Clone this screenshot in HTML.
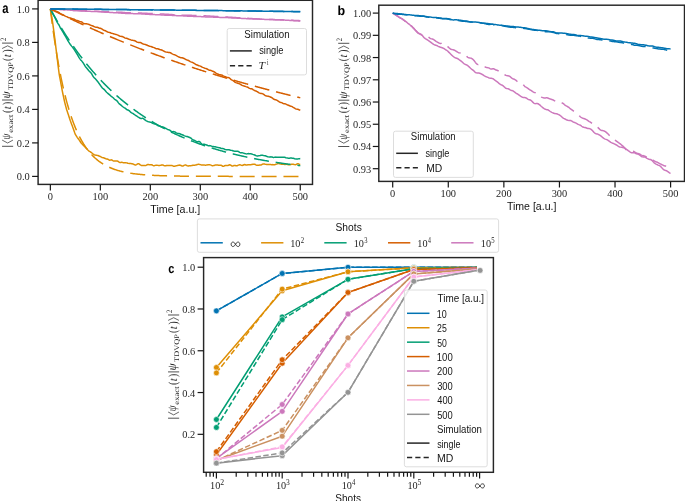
<!DOCTYPE html>
<html><head><meta charset="utf-8"><style>
html,body{margin:0;padding:0;background:#fff;overflow:hidden;}
svg{display:block;will-change:transform;}
.tk{font-family:"Liberation Serif",serif;font-size:10.4px;fill:#262626;}
.sl{font-family:"Liberation Sans",sans-serif;font-size:10px;fill:#151515;}
.ml{font-family:"Liberation Serif",serif;font-size:10.5px;fill:#262626;text-rendering:geometricPrecision;}
.pl{font-family:"Liberation Sans",sans-serif;font-size:13.5px;font-weight:bold;fill:#000;text-rendering:geometricPrecision;}
</style></head><body>
<svg width="685" height="501" viewBox="0 0 685 501">
<rect width="685" height="501" fill="#fff"/>
<defs><clipPath id="ca"><rect x="38.1" y="0.3" width="274.4" height="184.1"/></clipPath><clipPath id="cb"><rect x="378.8" y="5.2" width="305.7" height="176.2"/></clipPath><clipPath id="cc"><rect x="203.6" y="257.6" width="289.8" height="214.7"/></clipPath></defs>
<g clip-path="url(#ca)">
<path d="M50.36,8.9 L50.98,12.63 L51.61,16.21 L52.23,19.81 L52.86,24.02 L53.48,28.72 L54.11,33.44 L54.73,38.15 L55.36,43.19 L55.98,48.29 L56.61,53.39 L57.23,58.53 L57.86,63.57 L58.48,68.56 L59.11,73.51 L59.73,77.12 L60.36,80.46 L60.98,83.81 L61.61,87.18 L62.23,90.56 L62.86,93.73 L63.48,96.61 L64.1,99.51 L64.73,102.32 L65.35,104.71 L65.98,107.11 L66.6,109.47 L67.23,111.35 L67.85,113.21 L68.48,115.07 L69.1,116.96 L69.73,118.9 L70.35,120.74 L70.98,122.48 L71.6,124.18 L72.23,125.86 L72.85,127.55 L73.48,129.28 L74.1,131.04 L74.73,132.82 L75.35,134.43 L75.97,135.45 L76.6,136.44 L77.22,137.37 L77.85,138.23 L78.47,139.04 L79.1,139.88 L79.72,140.79 L80.35,141.76 L80.97,142.73 L81.6,143.43 L82.22,144.1 L82.85,144.74 L83.47,145.37 L84.1,146.01 L84.72,146.67 L85.35,147.33 L85.97,147.96 L86.6,148.6 L87.22,149.27 L87.84,149.95 L88.47,150.59 L89.09,151.05 L89.72,151.46 L90.34,151.84 L90.97,152.25 L91.59,152.73 L92.22,153.23 L92.84,153.74 L93.47,154.22 L94.09,154.68 L94.72,154.91 L95.34,155.08 L95.97,155.2 L96.59,155.28 L97.22,155.37 L97.84,155.55 L98.47,155.81 L99.09,156.07 L99.72,156.31 L100.34,156.56 L100.96,156.87 L101.59,157.19 L102.21,157.46 L102.84,157.66 L103.46,157.83 L104.09,158.02 L104.71,158.27 L105.34,158.56 L105.96,158.8 L106.59,158.9 L107.21,158.97 L107.84,159.17 L108.46,159.55 L109.09,159.99 L109.71,160.18 L110.34,160.07 L110.96,159.88 L111.59,159.85 L112.21,160.08 L112.84,160.53 L113.46,160.94 L114.08,161.1 L114.71,161.06 L115.33,160.96 L115.96,160.89 L116.58,160.91 L117.21,161.05 L117.83,161.24 L118.46,161.58 L119.08,162.04 L119.71,162.39 L120.33,162.49 L120.96,162.4 L121.58,162.27 L122.21,162.35 L122.83,162.6 L123.46,162.79 L124.08,162.81 L124.71,162.77 L125.33,162.75 L125.95,162.78 L126.58,162.87 L127.2,163 L127.83,163.2 L128.45,163.37 L129.08,163.46 L129.7,163.49 L130.33,163.52 L130.95,163.57 L131.58,163.65 L132.2,163.77 L132.83,163.92 L133.45,164.17 L134.08,164.53 L134.7,164.82 L135.33,164.93 L135.95,164.88 L136.58,164.63 L137.2,164.22 L137.82,163.84 L138.45,163.7 L139.07,163.88 L139.7,164.33 L140.32,164.85 L140.95,165.22 L141.57,165.41 L142.2,165.45 L142.82,165.43 L143.45,165.43 L144.07,165.51 L144.7,165.6 L145.32,165.6 L145.95,165.43 L146.57,165.1 L147.2,164.75 L147.82,164.56 L148.45,164.59 L149.07,164.74 L149.7,164.78 L150.32,164.7 L150.94,164.62 L151.57,164.7 L152.19,164.96 L152.82,165.35 L153.44,165.64 L154.07,165.66 L154.69,165.54 L155.32,165.36 L155.94,165.21 L156.57,165.18 L157.19,165.26 L157.82,165.37 L158.44,165.46 L159.07,165.54 L159.69,165.52 L160.32,165.39 L160.94,165.2 L161.57,165.01 L162.19,164.95 L162.81,165.04 L163.44,165.3 L164.06,165.61 L164.69,165.79 L165.31,165.81 L165.94,165.71 L166.56,165.57 L167.19,165.49 L167.81,165.49 L168.44,165.46 L169.06,165.45 L169.69,165.48 L170.31,165.47 L170.94,165.42 L171.56,165.43 L172.19,165.56 L172.81,165.85 L173.44,166.2 L174.06,166.35 L174.69,166.24 L175.31,166.07 L175.93,165.9 L176.56,165.72 L177.18,165.58 L177.81,165.42 L178.43,165.26 L179.06,165.15 L179.68,165.12 L180.31,165.19 L180.93,165.43 L181.56,165.76 L182.18,165.97 L182.81,165.95 L183.43,165.72 L184.06,165.39 L184.68,165.12 L185.31,165 L185.93,165.11 L186.56,165.4 L187.18,165.71 L187.81,165.9 L188.43,165.9 L189.05,165.77 L189.68,165.65 L190.3,165.65 L190.93,165.63 L191.55,165.56 L192.18,165.42 L192.8,165.26 L193.43,165.17 L194.05,165.2 L194.68,165.2 L195.3,165.1 L195.93,164.95 L196.55,164.74 L197.18,164.51 L197.8,164.39 L198.43,164.37 L199.05,164.37 L199.68,164.46 L200.3,164.65 L200.92,164.82 L201.55,164.94 L202.17,165.04 L202.8,165.04 L203.42,164.97 L204.05,164.99 L204.67,165.1 L205.3,165.18 L205.92,165.13 L206.55,165.02 L207.17,164.9 L207.8,164.84 L208.42,164.82 L209.05,164.79 L209.67,164.79 L210.3,164.88 L210.92,165.11 L211.55,165.43 L212.17,165.64 L212.8,165.65 L213.42,165.56 L214.04,165.44 L214.67,165.27 L215.29,165.1 L215.92,164.96 L216.54,164.9 L217.17,164.93 L217.79,165.06 L218.42,165.21 L219.04,165.3 L219.67,165.27 L220.29,165.19 L220.92,165.22 L221.54,165.46 L222.17,165.86 L222.79,166.25 L223.42,166.34 L224.04,166.08 L224.67,165.71 L225.29,165.49 L225.91,165.44 L226.54,165.51 L227.16,165.59 L227.79,165.54 L228.41,165.28 L229.04,164.97 L229.66,164.82 L230.29,164.94 L230.91,165.28 L231.54,165.69 L232.16,165.94 L232.79,165.93 L233.41,165.76 L234.04,165.56 L234.66,165.44 L235.29,165.5 L235.91,165.68 L236.54,165.79 L237.16,165.7 L237.79,165.43 L238.41,165.15 L239.03,164.92 L239.66,164.81 L240.28,164.85 L240.91,165.08 L241.53,165.37 L242.16,165.49 L242.78,165.35 L243.41,164.99 L244.03,164.65 L244.66,164.56 L245.28,164.73 L245.91,164.94 L246.53,165.01 L247.16,164.95 L247.78,164.85 L248.41,164.8 L249.03,164.79 L249.66,164.82 L250.28,164.8 L250.9,164.69 L251.53,164.58 L252.15,164.48 L252.78,164.35 L253.4,164.24 L254.03,164.21 L254.65,164.29 L255.28,164.49 L255.9,164.84 L256.53,165.17 L257.15,165.34 L257.78,165.36 L258.4,165.25 L259.03,165.13 L259.65,165.08 L260.28,165.08 L260.9,164.98 L261.53,164.75 L262.15,164.41 L262.78,164.09 L263.4,163.93 L264.02,163.97 L264.65,164.1 L265.27,164.25 L265.9,164.37 L266.52,164.44 L267.15,164.48 L267.77,164.47 L268.4,164.42 L269.02,164.38 L269.65,164.4 L270.27,164.46 L270.9,164.58 L271.52,164.63 L272.15,164.62 L272.77,164.66 L273.4,164.71 L274.02,164.72 L274.65,164.65 L275.27,164.49 L275.89,164.29 L276.52,164.1 L277.14,163.89 L277.77,163.66 L278.39,163.53 L279.02,163.54 L279.64,163.71 L280.27,163.94 L280.89,164.13 L281.52,164.21 L282.14,164.22 L282.77,164.24 L283.39,164.27 L284.02,164.34 L284.64,164.41 L285.27,164.4 L285.89,164.32 L286.52,164.3 L287.14,164.39 L287.76,164.54 L288.39,164.69 L289.01,164.75 L289.64,164.68 L290.26,164.57 L290.89,164.46 L291.51,164.34 L292.14,164.25 L292.76,164.2 L293.39,164.24 L294.01,164.4 L294.64,164.61 L295.26,164.74 L295.89,164.62 L296.51,164.28 L297.14,163.89 L297.76,163.71 L298.39,163.81 L299.01,164.1 L299.64,164.34 L300.26,164.39" fill="none" stroke="#de8f05" stroke-width="1.5" stroke-linejoin="round"/>
<path d="M50.36,8.9 L50.98,13.99 L51.61,18.93 L52.23,23.71 L52.86,28.35 L53.48,32.85 L54.11,37.22 L54.73,41.45 L55.36,45.55 L55.98,49.52 L56.61,53.38 L57.23,57.12 L57.86,60.74 L58.48,64.26 L59.11,67.67 L59.73,70.97 L60.36,74.18 L60.98,77.28 L61.61,80.3 L62.23,83.22 L62.86,86.05 L63.48,88.8 L64.1,91.46 L64.73,94.04 L65.35,96.54 L65.98,98.97 L66.6,101.32 L67.23,103.6 L67.85,105.82 L68.48,107.96 L69.1,110.04 L69.73,112.06 L70.35,114.01 L70.98,115.91 L71.6,117.75 L72.23,119.53 L72.85,121.26 L73.48,122.94 L74.1,124.56 L74.73,126.14 L75.35,127.66 L75.97,129.15 L76.6,130.58 L77.22,131.97 L77.85,133.32 L78.47,134.63 L79.1,135.9 L79.72,137.13 L80.35,138.33 L80.97,139.48 L81.6,140.61 L82.22,141.69 L82.85,142.75 L83.47,143.77 L84.1,144.76 L84.72,145.72 L85.35,146.66 L85.97,147.56 L86.6,148.44 L87.22,149.29 L87.84,150.11 L88.47,150.91 L89.09,151.69 L89.72,152.44 L90.34,153.16 L90.97,153.87 L91.59,154.56 L92.22,155.22 L92.84,155.86 L93.47,156.49 L94.09,157.09 L94.72,157.68 L95.34,158.25 L95.97,158.8 L96.59,159.33 L97.22,159.85 L97.84,160.36 L98.47,160.84 L99.09,161.32 L99.72,161.78 L100.34,162.22 L100.96,162.65 L101.59,163.07 L102.21,163.47 L102.84,163.87 L103.46,164.25 L104.09,164.62 L104.71,164.98 L105.34,165.32 L105.96,165.66 L106.59,165.99 L107.21,166.3 L107.84,166.61 L108.46,166.91 L109.09,167.19 L109.71,167.47 L110.34,167.75 L110.96,168.01 L111.59,168.26 L112.21,168.51 L112.84,168.75 L113.46,168.98 L114.08,169.21 L114.71,169.43 L115.33,169.64 L115.96,169.84 L116.58,170.04 L117.21,170.24 L117.83,170.42 L118.46,170.61 L119.08,170.78 L119.71,170.95 L120.33,171.12 L120.96,171.28 L121.58,171.43 L122.21,171.59 L122.83,171.73 L123.46,171.87 L124.08,172.01 L124.71,172.14 L125.33,172.27 L125.95,172.4 L126.58,172.52 L127.2,172.64 L127.83,172.75 L128.45,172.86 L129.08,172.97 L129.7,173.08 L130.33,173.18 L130.95,173.27 L131.58,173.37 L132.2,173.46 L132.83,173.55 L133.45,173.64 L134.08,173.72 L134.7,173.8 L135.33,173.88 L135.95,173.96 L136.58,174.03 L137.2,174.1 L137.82,174.17 L138.45,174.24 L139.07,174.31 L139.7,174.37 L140.32,174.43 L140.95,174.49 L141.57,174.55 L142.2,174.61 L142.82,174.66 L143.45,174.71 L144.07,174.77 L144.7,174.82 L145.32,174.86 L145.95,174.91 L146.57,174.96 L147.2,175 L147.82,175.04 L148.45,175.08 L149.07,175.12 L149.7,175.16 L150.32,175.2 L150.94,175.24 L151.57,175.27 L152.19,175.31 L152.82,175.34 L153.44,175.37 L154.07,175.4 L154.69,175.43 L155.32,175.46 L155.94,175.49 L156.57,175.52 L157.19,175.55 L157.82,175.57 L158.44,175.6 L159.07,175.62 L159.69,175.64 L160.32,175.67 L160.94,175.69 L161.57,175.71 L162.19,175.73 L162.81,175.75 L163.44,175.77 L164.06,175.79 L164.69,175.81 L165.31,175.83 L165.94,175.85 L166.56,175.86 L167.19,175.88 L167.81,175.89 L168.44,175.91 L169.06,175.92 L169.69,175.94 L170.31,175.95 L170.94,175.97 L171.56,175.98 L172.19,175.99 L172.81,176 L173.44,176.02 L174.06,176.03 L174.69,176.04 L175.31,176.05 L175.93,176.06 L176.56,176.07 L177.18,176.08 L177.81,176.09 L178.43,176.1 L179.06,176.11 L179.68,176.12 L180.31,176.13 L180.93,176.14 L181.56,176.14 L182.18,176.15 L182.81,176.16 L183.43,176.17 L184.06,176.17 L184.68,176.18 L185.31,176.19 L185.93,176.19 L186.56,176.2 L187.18,176.21 L187.81,176.21 L188.43,176.22 L189.05,176.22 L189.68,176.23 L190.3,176.23 L190.93,176.24 L191.55,176.24 L192.18,176.25 L192.8,176.25 L193.43,176.26 L194.05,176.26 L194.68,176.27 L195.3,176.27 L195.93,176.27 L196.55,176.28 L197.18,176.28 L197.8,176.29 L198.43,176.29 L199.05,176.29 L199.68,176.3 L200.3,176.3 L200.92,176.3 L201.55,176.3 L202.17,176.31 L202.8,176.31 L203.42,176.31 L204.05,176.32 L204.67,176.32 L205.3,176.32 L205.92,176.32 L206.55,176.33 L207.17,176.33 L207.8,176.33 L208.42,176.33 L209.05,176.33 L209.67,176.34 L210.3,176.34 L210.92,176.34 L211.55,176.34 L212.17,176.34 L212.8,176.35 L213.42,176.35 L214.04,176.35 L214.67,176.35 L215.29,176.35 L215.92,176.35 L216.54,176.35 L217.17,176.36 L217.79,176.36 L218.42,176.36 L219.04,176.36 L219.67,176.36 L220.29,176.36 L220.92,176.36 L221.54,176.36 L222.17,176.37 L222.79,176.37 L223.42,176.37 L224.04,176.37 L224.67,176.37 L225.29,176.37 L225.91,176.37 L226.54,176.37 L227.16,176.37 L227.79,176.37 L228.41,176.37 L229.04,176.38 L229.66,176.38 L230.29,176.38 L230.91,176.38 L231.54,176.38 L232.16,176.38 L232.79,176.38 L233.41,176.38 L234.04,176.38 L234.66,176.38 L235.29,176.38 L235.91,176.38 L236.54,176.38 L237.16,176.38 L237.79,176.38 L238.41,176.38 L239.03,176.39 L239.66,176.39 L240.28,176.39 L240.91,176.39 L241.53,176.39 L242.16,176.39 L242.78,176.39 L243.41,176.39 L244.03,176.39 L244.66,176.39 L245.28,176.39 L245.91,176.39 L246.53,176.39 L247.16,176.39 L247.78,176.39 L248.41,176.39 L249.03,176.39 L249.66,176.39 L250.28,176.39 L250.9,176.39 L251.53,176.39 L252.15,176.39 L252.78,176.39 L253.4,176.39 L254.03,176.39 L254.65,176.39 L255.28,176.39 L255.9,176.39 L256.53,176.39 L257.15,176.39 L257.78,176.39 L258.4,176.39 L259.03,176.39 L259.65,176.39 L260.28,176.39 L260.9,176.39 L261.53,176.4 L262.15,176.4 L262.78,176.4 L263.4,176.4 L264.02,176.4 L264.65,176.4 L265.27,176.4 L265.9,176.4 L266.52,176.4 L267.15,176.4 L267.77,176.4 L268.4,176.4 L269.02,176.4 L269.65,176.4 L270.27,176.4 L270.9,176.4 L271.52,176.4 L272.15,176.4 L272.77,176.4 L273.4,176.4 L274.02,176.4 L274.65,176.4 L275.27,176.4 L275.89,176.4 L276.52,176.4 L277.14,176.4 L277.77,176.4 L278.39,176.4 L279.02,176.4 L279.64,176.4 L280.27,176.4 L280.89,176.4 L281.52,176.4 L282.14,176.4 L282.77,176.4 L283.39,176.4 L284.02,176.4 L284.64,176.4 L285.27,176.4 L285.89,176.4 L286.52,176.4 L287.14,176.4 L287.76,176.4 L288.39,176.4 L289.01,176.4 L289.64,176.4 L290.26,176.4 L290.89,176.4 L291.51,176.4 L292.14,176.4 L292.76,176.4 L293.39,176.4 L294.01,176.4 L294.64,176.4 L295.26,176.4 L295.89,176.4 L296.51,176.4 L297.14,176.4 L297.76,176.4 L298.39,176.4 L299.01,176.4 L299.64,176.4 L300.26,176.4" fill="none" stroke="#de8f05" stroke-width="1.5" stroke-linejoin="round" stroke-dasharray="15 6.9"/>
<path d="M50.36,8.9 L50.98,9.91 L51.61,11.28 L52.23,12.59 L52.86,13.81 L53.48,14.94 L54.11,16 L54.73,17.12 L55.36,18.42 L55.98,19.82 L56.61,21.21 L57.23,22.39 L57.86,23.33 L58.48,24.2 L59.11,25.24 L59.73,26.48 L60.36,27.81 L60.98,28.91 L61.61,29.88 L62.23,30.83 L62.86,31.84 L63.48,32.94 L64.1,34.05 L64.73,35.08 L65.35,36.06 L65.98,37.12 L66.6,38.28 L67.23,39.49 L67.85,40.64 L68.48,41.65 L69.1,42.59 L69.73,43.54 L70.35,44.51 L70.98,45.34 L71.6,46.12 L72.23,46.87 L72.85,47.66 L73.48,48.52 L74.1,49.39 L74.73,50.31 L75.35,51.32 L75.97,52.34 L76.6,53.37 L77.22,54.4 L77.85,55.46 L78.47,56.54 L79.1,57.62 L79.72,58.58 L80.35,59.41 L80.97,60.16 L81.6,60.87 L82.22,61.61 L82.85,62.43 L83.47,63.35 L84.1,64.39 L84.72,65.48 L85.35,66.43 L85.97,67.21 L86.6,67.94 L87.22,68.69 L87.84,69.48 L88.47,70.31 L89.09,71.04 L89.72,71.62 L90.34,72.14 L90.97,72.81 L91.59,73.72 L92.22,74.85 L92.84,75.99 L93.47,76.91 L94.09,77.61 L94.72,78.21 L95.34,78.85 L95.97,79.52 L96.59,80.21 L97.22,80.93 L97.84,81.71 L98.47,82.57 L99.09,83.44 L99.72,84.32 L100.34,85.21 L100.96,86.14 L101.59,87.08 L102.21,87.84 L102.84,88.37 L103.46,88.82 L104.09,89.37 L104.71,89.98 L105.34,90.7 L105.96,91.48 L106.59,92.19 L107.21,92.79 L107.84,93.3 L108.46,93.8 L109.09,94.33 L109.71,94.9 L110.34,95.49 L110.96,96.05 L111.59,96.53 L112.21,97.01 L112.84,97.5 L113.46,98.06 L114.08,98.71 L114.71,99.31 L115.33,99.76 L115.96,100.09 L116.58,100.49 L117.21,101.1 L117.83,101.95 L118.46,102.87 L119.08,103.64 L119.71,104.22 L120.33,104.66 L120.96,105.1 L121.58,105.65 L122.21,106.23 L122.83,106.75 L123.46,107.2 L124.08,107.56 L124.71,107.89 L125.33,108.29 L125.95,108.81 L126.58,109.35 L127.2,109.79 L127.83,110.08 L128.45,110.28 L129.08,110.62 L129.7,111.17 L130.33,111.83 L130.95,112.41 L131.58,112.81 L132.2,113.1 L132.83,113.42 L133.45,113.83 L134.08,114.27 L134.7,114.76 L135.33,115.24 L135.95,115.58 L136.58,115.97 L137.2,116.41 L137.82,116.81 L138.45,117.17 L139.07,117.56 L139.7,117.98 L140.32,118.33 L140.95,118.52 L141.57,118.49 L142.2,118.37 L142.82,118.36 L143.45,118.62 L144.07,119.09 L144.7,119.61 L145.32,120.1 L145.95,120.54 L146.57,120.91 L147.2,121.22 L147.82,121.49 L148.45,121.7 L149.07,121.88 L149.7,122.04 L150.32,122.2 L150.94,122.39 L151.57,122.66 L152.19,122.99 L152.82,123.34 L153.44,123.65 L154.07,123.86 L154.69,123.98 L155.32,124.09 L155.94,124.3 L156.57,124.68 L157.19,125.11 L157.82,125.49 L158.44,125.76 L159.07,125.94 L159.69,126.09 L160.32,126.29 L160.94,126.51 L161.57,126.69 L162.19,126.85 L162.81,127.04 L163.44,127.26 L164.06,127.53 L164.69,127.83 L165.31,128.15 L165.94,128.46 L166.56,128.82 L167.19,129.19 L167.81,129.49 L168.44,129.7 L169.06,129.85 L169.69,130.13 L170.31,130.58 L170.94,131.1 L171.56,131.54 L172.19,131.74 L172.81,131.7 L173.44,131.59 L174.06,131.63 L174.69,131.84 L175.31,132.17 L175.93,132.55 L176.56,132.91 L177.18,133.2 L177.81,133.4 L178.43,133.52 L179.06,133.59 L179.68,133.72 L180.31,133.96 L180.93,134.27 L181.56,134.56 L182.18,134.77 L182.81,134.97 L183.43,135.24 L184.06,135.56 L184.68,135.85 L185.31,136.1 L185.93,136.28 L186.56,136.41 L187.18,136.56 L187.81,136.77 L188.43,137 L189.05,137.23 L189.68,137.5 L190.3,137.79 L190.93,138.16 L191.55,138.69 L192.18,139.28 L192.8,139.75 L193.43,140.02 L194.05,140.19 L194.68,140.42 L195.3,140.79 L195.93,141.24 L196.55,141.63 L197.18,141.81 L197.8,141.76 L198.43,141.6 L199.05,141.52 L199.68,141.72 L200.3,142.3 L200.92,143.14 L201.55,143.92 L202.17,144.36 L202.8,144.45 L203.42,144.34 L204.05,144.25 L204.67,144.34 L205.3,144.57 L205.92,144.72 L206.55,144.91 L207.17,145.2 L207.8,145.52 L208.42,145.72 L209.05,145.71 L209.67,145.62 L210.3,145.64 L210.92,145.84 L211.55,146.15 L212.17,146.42 L212.8,146.55 L213.42,146.61 L214.04,146.68 L214.67,146.75 L215.29,146.83 L215.92,146.95 L216.54,147.13 L217.17,147.32 L217.79,147.47 L218.42,147.58 L219.04,147.67 L219.67,147.82 L220.29,148.04 L220.92,148.26 L221.54,148.42 L222.17,148.49 L222.79,148.53 L223.42,148.67 L224.04,148.92 L224.67,149.21 L225.29,149.47 L225.91,149.65 L226.54,149.68 L227.16,149.66 L227.79,149.66 L228.41,149.68 L229.04,149.79 L229.66,149.97 L230.29,150.15 L230.91,150.28 L231.54,150.37 L232.16,150.51 L232.79,150.71 L233.41,150.92 L234.04,151.09 L234.66,151.2 L235.29,151.3 L235.91,151.34 L236.54,151.32 L237.16,151.3 L237.79,151.33 L238.41,151.54 L239.03,151.95 L239.66,152.39 L240.28,152.66 L240.91,152.73 L241.53,152.73 L242.16,152.75 L242.78,152.88 L243.41,153.09 L244.03,153.29 L244.66,153.46 L245.28,153.64 L245.91,153.82 L246.53,153.88 L247.16,153.79 L247.78,153.64 L248.41,153.57 L249.03,153.63 L249.66,153.76 L250.28,153.84 L250.9,153.85 L251.53,153.94 L252.15,154.15 L252.78,154.4 L253.4,154.61 L254.03,154.76 L254.65,154.95 L255.28,155.22 L255.9,155.56 L256.53,155.85 L257.15,155.97 L257.78,155.94 L258.4,155.86 L259.03,155.75 L259.65,155.63 L260.28,155.5 L260.9,155.31 L261.53,155.16 L262.15,155.18 L262.78,155.31 L263.4,155.48 L264.02,155.63 L264.65,155.73 L265.27,155.83 L265.9,156.04 L266.52,156.32 L267.15,156.57 L267.77,156.75 L268.4,156.88 L269.02,156.96 L269.65,156.98 L270.27,156.93 L270.9,156.87 L271.52,156.91 L272.15,157.08 L272.77,157.28 L273.4,157.4 L274.02,157.38 L274.65,157.26 L275.27,157.17 L275.89,157.12 L276.52,157.13 L277.14,157.16 L277.77,157.19 L278.39,157.19 L279.02,157.16 L279.64,157.17 L280.27,157.22 L280.89,157.27 L281.52,157.28 L282.14,157.25 L282.77,157.2 L283.39,157.21 L284.02,157.26 L284.64,157.34 L285.27,157.48 L285.89,157.69 L286.52,157.87 L287.14,158 L287.76,158.11 L288.39,158.19 L289.01,158.23 L289.64,158.2 L290.26,158.11 L290.89,158.05 L291.51,158.11 L292.14,158.21 L292.76,158.27 L293.39,158.33 L294.01,158.46 L294.64,158.68 L295.26,158.88 L295.89,159 L296.51,159.05 L297.14,159 L297.76,158.93 L298.39,158.86 L299.01,158.77 L299.64,158.69 L300.26,158.61" fill="none" stroke="#029e73" stroke-width="1.5" stroke-linejoin="round"/>
<path d="M50.36,8.9 L50.98,10.05 L51.61,11.19 L52.23,12.32 L52.86,13.44 L53.48,14.55 L54.11,15.66 L54.73,16.76 L55.36,17.86 L55.98,18.94 L56.61,20.02 L57.23,21.09 L57.86,22.15 L58.48,23.21 L59.11,24.26 L59.73,25.3 L60.36,26.33 L60.98,27.36 L61.61,28.38 L62.23,29.39 L62.86,30.4 L63.48,31.4 L64.1,32.39 L64.73,33.38 L65.35,34.35 L65.98,35.33 L66.6,36.29 L67.23,37.25 L67.85,38.2 L68.48,39.15 L69.1,40.09 L69.73,41.02 L70.35,41.95 L70.98,42.87 L71.6,43.78 L72.23,44.69 L72.85,45.59 L73.48,46.49 L74.1,47.38 L74.73,48.26 L75.35,49.14 L75.97,50.01 L76.6,50.87 L77.22,51.73 L77.85,52.59 L78.47,53.43 L79.1,54.27 L79.72,55.11 L80.35,55.94 L80.97,56.77 L81.6,57.58 L82.22,58.4 L82.85,59.2 L83.47,60.01 L84.1,60.8 L84.72,61.59 L85.35,62.38 L85.97,63.16 L86.6,63.94 L87.22,64.71 L87.84,65.47 L88.47,66.23 L89.09,66.98 L89.72,67.73 L90.34,68.48 L90.97,69.22 L91.59,69.95 L92.22,70.68 L92.84,71.4 L93.47,72.12 L94.09,72.83 L94.72,73.54 L95.34,74.25 L95.97,74.95 L96.59,75.64 L97.22,76.33 L97.84,77.01 L98.47,77.69 L99.09,78.37 L99.72,79.04 L100.34,79.71 L100.96,80.37 L101.59,81.03 L102.21,81.68 L102.84,82.33 L103.46,82.97 L104.09,83.61 L104.71,84.25 L105.34,84.88 L105.96,85.5 L106.59,86.13 L107.21,86.74 L107.84,87.36 L108.46,87.97 L109.09,88.57 L109.71,89.17 L110.34,89.77 L110.96,90.36 L111.59,90.95 L112.21,91.54 L112.84,92.12 L113.46,92.69 L114.08,93.27 L114.71,93.84 L115.33,94.4 L115.96,94.96 L116.58,95.52 L117.21,96.07 L117.83,96.62 L118.46,97.17 L119.08,97.71 L119.71,98.25 L120.33,98.79 L120.96,99.32 L121.58,99.84 L122.21,100.37 L122.83,100.89 L123.46,101.41 L124.08,101.92 L124.71,102.43 L125.33,102.94 L125.95,103.44 L126.58,103.94 L127.2,104.43 L127.83,104.93 L128.45,105.42 L129.08,105.9 L129.7,106.38 L130.33,106.86 L130.95,107.34 L131.58,107.81 L132.2,108.28 L132.83,108.75 L133.45,109.21 L134.08,109.67 L134.7,110.13 L135.33,110.58 L135.95,111.03 L136.58,111.48 L137.2,111.92 L137.82,112.36 L138.45,112.8 L139.07,113.24 L139.7,113.67 L140.32,114.1 L140.95,114.53 L141.57,114.95 L142.2,115.37 L142.82,115.79 L143.45,116.2 L144.07,116.61 L144.7,117.02 L145.32,117.43 L145.95,117.83 L146.57,118.23 L147.2,118.63 L147.82,119.03 L148.45,119.42 L149.07,119.81 L149.7,120.2 L150.32,120.58 L150.94,120.96 L151.57,121.34 L152.19,121.72 L152.82,122.1 L153.44,122.47 L154.07,122.84 L154.69,123.2 L155.32,123.57 L155.94,123.93 L156.57,124.29 L157.19,124.64 L157.82,125 L158.44,125.35 L159.07,125.7 L159.69,126.05 L160.32,126.39 L160.94,126.73 L161.57,127.07 L162.19,127.41 L162.81,127.75 L163.44,128.08 L164.06,128.41 L164.69,128.74 L165.31,129.07 L165.94,129.39 L166.56,129.71 L167.19,130.03 L167.81,130.35 L168.44,130.66 L169.06,130.98 L169.69,131.29 L170.31,131.6 L170.94,131.9 L171.56,132.21 L172.19,132.51 L172.81,132.81 L173.44,133.11 L174.06,133.4 L174.69,133.7 L175.31,133.99 L175.93,134.28 L176.56,134.57 L177.18,134.86 L177.81,135.14 L178.43,135.42 L179.06,135.7 L179.68,135.98 L180.31,136.26 L180.93,136.53 L181.56,136.81 L182.18,137.08 L182.81,137.35 L183.43,137.61 L184.06,137.88 L184.68,138.14 L185.31,138.4 L185.93,138.66 L186.56,138.92 L187.18,139.18 L187.81,139.43 L188.43,139.69 L189.05,139.94 L189.68,140.19 L190.3,140.44 L190.93,140.68 L191.55,140.93 L192.18,141.17 L192.8,141.41 L193.43,141.65 L194.05,141.89 L194.68,142.12 L195.3,142.36 L195.93,142.59 L196.55,142.82 L197.18,143.05 L197.8,143.28 L198.43,143.51 L199.05,143.73 L199.68,143.96 L200.3,144.18 L200.92,144.4 L201.55,144.62 L202.17,144.84 L202.8,145.05 L203.42,145.27 L204.05,145.48 L204.67,145.69 L205.3,145.9 L205.92,146.11 L206.55,146.32 L207.17,146.52 L207.8,146.73 L208.42,146.93 L209.05,147.13 L209.67,147.33 L210.3,147.53 L210.92,147.73 L211.55,147.93 L212.17,148.12 L212.8,148.31 L213.42,148.51 L214.04,148.7 L214.67,148.89 L215.29,149.08 L215.92,149.26 L216.54,149.45 L217.17,149.63 L217.79,149.82 L218.42,150 L219.04,150.18 L219.67,150.36 L220.29,150.54 L220.92,150.71 L221.54,150.89 L222.17,151.06 L222.79,151.24 L223.42,151.41 L224.04,151.58 L224.67,151.75 L225.29,151.92 L225.91,152.09 L226.54,152.25 L227.16,152.42 L227.79,152.58 L228.41,152.75 L229.04,152.91 L229.66,153.07 L230.29,153.23 L230.91,153.39 L231.54,153.54 L232.16,153.7 L232.79,153.86 L233.41,154.01 L234.04,154.16 L234.66,154.32 L235.29,154.47 L235.91,154.62 L236.54,154.77 L237.16,154.91 L237.79,155.06 L238.41,155.21 L239.03,155.35 L239.66,155.5 L240.28,155.64 L240.91,155.78 L241.53,155.92 L242.16,156.06 L242.78,156.2 L243.41,156.34 L244.03,156.48 L244.66,156.61 L245.28,156.75 L245.91,156.88 L246.53,157.02 L247.16,157.15 L247.78,157.28 L248.41,157.41 L249.03,157.54 L249.66,157.67 L250.28,157.8 L250.9,157.93 L251.53,158.05 L252.15,158.18 L252.78,158.3 L253.4,158.43 L254.03,158.55 L254.65,158.67 L255.28,158.79 L255.9,158.91 L256.53,159.03 L257.15,159.15 L257.78,159.27 L258.4,159.39 L259.03,159.5 L259.65,159.62 L260.28,159.74 L260.9,159.85 L261.53,159.96 L262.15,160.08 L262.78,160.19 L263.4,160.3 L264.02,160.41 L264.65,160.52 L265.27,160.63 L265.9,160.73 L266.52,160.84 L267.15,160.95 L267.77,161.05 L268.4,161.16 L269.02,161.26 L269.65,161.37 L270.27,161.47 L270.9,161.57 L271.52,161.67 L272.15,161.77 L272.77,161.87 L273.4,161.97 L274.02,162.07 L274.65,162.17 L275.27,162.27 L275.89,162.36 L276.52,162.46 L277.14,162.56 L277.77,162.65 L278.39,162.74 L279.02,162.84 L279.64,162.93 L280.27,163.02 L280.89,163.11 L281.52,163.21 L282.14,163.3 L282.77,163.39 L283.39,163.47 L284.02,163.56 L284.64,163.65 L285.27,163.74 L285.89,163.83 L286.52,163.91 L287.14,164 L287.76,164.08 L288.39,164.17 L289.01,164.25 L289.64,164.33 L290.26,164.42 L290.89,164.5 L291.51,164.58 L292.14,164.66 L292.76,164.74 L293.39,164.82 L294.01,164.9 L294.64,164.98 L295.26,165.06 L295.89,165.13 L296.51,165.21 L297.14,165.29 L297.76,165.36 L298.39,165.44 L299.01,165.51 L299.64,165.59 L300.26,165.66" fill="none" stroke="#029e73" stroke-width="1.5" stroke-linejoin="round" stroke-dasharray="15 6.9"/>
<path d="M50.36,8.9 L50.98,9.5 L51.61,9.72 L52.23,9.95 L52.86,10.18 L53.48,10.37 L54.11,10.54 L54.73,10.7 L55.36,10.88 L55.98,11.12 L56.61,11.38 L57.23,11.65 L57.86,11.94 L58.48,12.27 L59.11,12.67 L59.73,13.13 L60.36,13.57 L60.98,13.97 L61.61,14.31 L62.23,14.57 L62.86,14.79 L63.48,15.06 L64.1,15.43 L64.73,15.81 L65.35,16.17 L65.98,16.42 L66.6,16.64 L67.23,16.91 L67.85,17.22 L68.48,17.49 L69.1,17.67 L69.73,17.85 L70.35,18.03 L70.98,18.24 L71.6,18.45 L72.23,18.67 L72.85,18.88 L73.48,19.08 L74.1,19.3 L74.73,19.56 L75.35,19.88 L75.97,20.23 L76.6,20.48 L77.22,20.57 L77.85,20.68 L78.47,20.93 L79.1,21.24 L79.72,21.5 L80.35,21.63 L80.97,21.7 L81.6,21.89 L82.22,22.3 L82.85,22.83 L83.47,23.3 L84.1,23.61 L84.72,23.71 L85.35,23.68 L85.97,23.65 L86.6,23.75 L87.22,23.94 L87.84,24.12 L88.47,24.31 L89.09,24.54 L89.72,24.8 L90.34,25.08 L90.97,25.36 L91.59,25.58 L92.22,25.78 L92.84,26.02 L93.47,26.3 L94.09,26.58 L94.72,26.86 L95.34,27.12 L95.97,27.25 L96.59,27.28 L97.22,27.34 L97.84,27.52 L98.47,27.78 L99.09,28.03 L99.72,28.2 L100.34,28.32 L100.96,28.53 L101.59,28.85 L102.21,29.23 L102.84,29.64 L103.46,30.02 L104.09,30.33 L104.71,30.57 L105.34,30.8 L105.96,31.05 L106.59,31.37 L107.21,31.75 L107.84,32.03 L108.46,32.21 L109.09,32.37 L109.71,32.54 L110.34,32.78 L110.96,33.04 L111.59,33.23 L112.21,33.4 L112.84,33.58 L113.46,33.74 L114.08,33.91 L114.71,34.11 L115.33,34.29 L115.96,34.45 L116.58,34.64 L117.21,34.85 L117.83,35.1 L118.46,35.39 L119.08,35.72 L119.71,36 L120.33,36.2 L120.96,36.36 L121.58,36.48 L122.21,36.59 L122.83,36.78 L123.46,37.1 L124.08,37.47 L124.71,37.87 L125.33,38.13 L125.95,38.24 L126.58,38.33 L127.2,38.5 L127.83,38.74 L128.45,39 L129.08,39.24 L129.7,39.43 L130.33,39.66 L130.95,39.92 L131.58,40.14 L132.2,40.26 L132.83,40.35 L133.45,40.42 L134.08,40.51 L134.7,40.73 L135.33,41.02 L135.95,41.37 L136.58,41.74 L137.2,42.07 L137.82,42.33 L138.45,42.47 L139.07,42.52 L139.7,42.54 L140.32,42.59 L140.95,42.76 L141.57,43.1 L142.2,43.51 L142.82,43.85 L143.45,44.07 L144.07,44.22 L144.7,44.37 L145.32,44.57 L145.95,44.77 L146.57,44.98 L147.2,45.22 L147.82,45.5 L148.45,45.76 L149.07,46 L149.7,46.2 L150.32,46.37 L150.94,46.53 L151.57,46.71 L152.19,46.94 L152.82,47.18 L153.44,47.39 L154.07,47.62 L154.69,47.92 L155.32,48.29 L155.94,48.61 L156.57,48.78 L157.19,48.79 L157.82,48.79 L158.44,48.95 L159.07,49.24 L159.69,49.51 L160.32,49.67 L160.94,49.79 L161.57,49.96 L162.19,50.22 L162.81,50.57 L163.44,50.92 L164.06,51.25 L164.69,51.58 L165.31,51.85 L165.94,52 L166.56,52.12 L167.19,52.25 L167.81,52.36 L168.44,52.48 L169.06,52.54 L169.69,52.57 L170.31,52.73 L170.94,53.03 L171.56,53.4 L172.19,53.79 L172.81,54.14 L173.44,54.42 L174.06,54.64 L174.69,54.83 L175.31,55.06 L175.93,55.35 L176.56,55.7 L177.18,56.08 L177.81,56.44 L178.43,56.76 L179.06,57.06 L179.68,57.33 L180.31,57.54 L180.93,57.65 L181.56,57.71 L182.18,57.79 L182.81,57.96 L183.43,58.2 L184.06,58.51 L184.68,58.86 L185.31,59.2 L185.93,59.54 L186.56,59.85 L187.18,60.06 L187.81,60.23 L188.43,60.49 L189.05,60.84 L189.68,61.24 L190.3,61.58 L190.93,61.87 L191.55,62.12 L192.18,62.33 L192.8,62.56 L193.43,62.87 L194.05,63.26 L194.68,63.71 L195.3,64.15 L195.93,64.48 L196.55,64.71 L197.18,64.93 L197.8,65.21 L198.43,65.51 L199.05,65.73 L199.68,65.89 L200.3,66.09 L200.92,66.38 L201.55,66.73 L202.17,67.07 L202.8,67.36 L203.42,67.62 L204.05,67.9 L204.67,68.17 L205.3,68.38 L205.92,68.56 L206.55,68.75 L207.17,69.03 L207.8,69.38 L208.42,69.72 L209.05,69.98 L209.67,70.18 L210.3,70.29 L210.92,70.42 L211.55,70.68 L212.17,71.03 L212.8,71.32 L213.42,71.55 L214.04,71.79 L214.67,72.1 L215.29,72.54 L215.92,73.05 L216.54,73.48 L217.17,73.78 L217.79,74.05 L218.42,74.31 L219.04,74.51 L219.67,74.67 L220.29,74.81 L220.92,74.94 L221.54,75.08 L222.17,75.29 L222.79,75.56 L223.42,75.87 L224.04,76.14 L224.67,76.36 L225.29,76.6 L225.91,76.88 L226.54,77.19 L227.16,77.43 L227.79,77.54 L228.41,77.61 L229.04,77.82 L229.66,78.22 L230.29,78.81 L230.91,79.46 L231.54,79.92 L232.16,80.16 L232.79,80.4 L233.41,80.81 L234.04,81.28 L234.66,81.82 L235.29,82.3 L235.91,82.63 L236.54,82.85 L237.16,83.05 L237.79,83.25 L238.41,83.44 L239.03,83.65 L239.66,83.92 L240.28,84.25 L240.91,84.62 L241.53,84.99 L242.16,85.32 L242.78,85.6 L243.41,85.81 L244.03,85.99 L244.66,86.17 L245.28,86.39 L245.91,86.64 L246.53,86.86 L247.16,87.05 L247.78,87.25 L248.41,87.59 L249.03,88.02 L249.66,88.41 L250.28,88.63 L250.9,88.67 L251.53,88.72 L252.15,88.95 L252.78,89.37 L253.4,89.82 L254.03,90.22 L254.65,90.57 L255.28,90.82 L255.9,91.03 L256.53,91.29 L257.15,91.62 L257.78,92 L258.4,92.43 L259.03,92.85 L259.65,93.12 L260.28,93.32 L260.9,93.45 L261.53,93.5 L262.15,93.59 L262.78,93.84 L263.4,94.22 L264.02,94.67 L264.65,95.13 L265.27,95.47 L265.9,95.73 L266.52,95.93 L267.15,96.06 L267.77,96.14 L268.4,96.24 L269.02,96.41 L269.65,96.66 L270.27,96.96 L270.9,97.25 L271.52,97.52 L272.15,97.85 L272.77,98.3 L273.4,98.82 L274.02,99.29 L274.65,99.6 L275.27,99.74 L275.89,99.85 L276.52,100.05 L277.14,100.38 L277.77,100.82 L278.39,101.25 L279.02,101.63 L279.64,101.97 L280.27,102.24 L280.89,102.45 L281.52,102.66 L282.14,102.94 L282.77,103.23 L283.39,103.49 L284.02,103.67 L284.64,103.76 L285.27,103.86 L285.89,104.09 L286.52,104.44 L287.14,104.75 L287.76,105 L288.39,105.24 L289.01,105.47 L289.64,105.74 L290.26,106.01 L290.89,106.2 L291.51,106.38 L292.14,106.66 L292.76,107.05 L293.39,107.42 L294.01,107.79 L294.64,108.19 L295.26,108.6 L295.89,108.94 L296.51,109.12 L297.14,109.2 L297.76,109.3 L298.39,109.49 L299.01,109.74 L299.64,109.97 L300.26,110.19" fill="none" stroke="#d55e00" stroke-width="1.5" stroke-linejoin="round"/>
<path d="M50.36,8.9 L50.98,9.22 L51.61,9.53 L52.23,9.85 L52.86,10.16 L53.48,10.48 L54.11,10.79 L54.73,11.1 L55.36,11.41 L55.98,11.73 L56.61,12.04 L57.23,12.35 L57.86,12.66 L58.48,12.97 L59.11,13.28 L59.73,13.58 L60.36,13.89 L60.98,14.2 L61.61,14.51 L62.23,14.81 L62.86,15.12 L63.48,15.42 L64.1,15.73 L64.73,16.03 L65.35,16.33 L65.98,16.63 L66.6,16.94 L67.23,17.24 L67.85,17.54 L68.48,17.84 L69.1,18.14 L69.73,18.44 L70.35,18.74 L70.98,19.03 L71.6,19.33 L72.23,19.63 L72.85,19.92 L73.48,20.22 L74.1,20.51 L74.73,20.81 L75.35,21.1 L75.97,21.4 L76.6,21.69 L77.22,21.98 L77.85,22.27 L78.47,22.56 L79.1,22.85 L79.72,23.15 L80.35,23.43 L80.97,23.72 L81.6,24.01 L82.22,24.3 L82.85,24.59 L83.47,24.87 L84.1,25.16 L84.72,25.45 L85.35,25.73 L85.97,26.02 L86.6,26.3 L87.22,26.58 L87.84,26.87 L88.47,27.15 L89.09,27.43 L89.72,27.71 L90.34,27.99 L90.97,28.27 L91.59,28.55 L92.22,28.83 L92.84,29.11 L93.47,29.39 L94.09,29.67 L94.72,29.95 L95.34,30.22 L95.97,30.5 L96.59,30.77 L97.22,31.05 L97.84,31.32 L98.47,31.6 L99.09,31.87 L99.72,32.14 L100.34,32.42 L100.96,32.69 L101.59,32.96 L102.21,33.23 L102.84,33.5 L103.46,33.77 L104.09,34.04 L104.71,34.31 L105.34,34.58 L105.96,34.85 L106.59,35.11 L107.21,35.38 L107.84,35.65 L108.46,35.91 L109.09,36.18 L109.71,36.44 L110.34,36.71 L110.96,36.97 L111.59,37.24 L112.21,37.5 L112.84,37.76 L113.46,38.02 L114.08,38.28 L114.71,38.54 L115.33,38.81 L115.96,39.07 L116.58,39.32 L117.21,39.58 L117.83,39.84 L118.46,40.1 L119.08,40.36 L119.71,40.61 L120.33,40.87 L120.96,41.13 L121.58,41.38 L122.21,41.64 L122.83,41.89 L123.46,42.15 L124.08,42.4 L124.71,42.65 L125.33,42.91 L125.95,43.16 L126.58,43.41 L127.2,43.66 L127.83,43.91 L128.45,44.16 L129.08,44.41 L129.7,44.66 L130.33,44.91 L130.95,45.16 L131.58,45.41 L132.2,45.65 L132.83,45.9 L133.45,46.15 L134.08,46.39 L134.7,46.64 L135.33,46.88 L135.95,47.13 L136.58,47.37 L137.2,47.62 L137.82,47.86 L138.45,48.1 L139.07,48.35 L139.7,48.59 L140.32,48.83 L140.95,49.07 L141.57,49.31 L142.2,49.55 L142.82,49.79 L143.45,50.03 L144.07,50.27 L144.7,50.51 L145.32,50.74 L145.95,50.98 L146.57,51.22 L147.2,51.46 L147.82,51.69 L148.45,51.93 L149.07,52.16 L149.7,52.4 L150.32,52.63 L150.94,52.87 L151.57,53.1 L152.19,53.33 L152.82,53.56 L153.44,53.8 L154.07,54.03 L154.69,54.26 L155.32,54.49 L155.94,54.72 L156.57,54.95 L157.19,55.18 L157.82,55.41 L158.44,55.64 L159.07,55.87 L159.69,56.09 L160.32,56.32 L160.94,56.55 L161.57,56.77 L162.19,57 L162.81,57.23 L163.44,57.45 L164.06,57.68 L164.69,57.9 L165.31,58.12 L165.94,58.35 L166.56,58.57 L167.19,58.79 L167.81,59.01 L168.44,59.24 L169.06,59.46 L169.69,59.68 L170.31,59.9 L170.94,60.12 L171.56,60.34 L172.19,60.56 L172.81,60.78 L173.44,61 L174.06,61.21 L174.69,61.43 L175.31,61.65 L175.93,61.87 L176.56,62.08 L177.18,62.3 L177.81,62.51 L178.43,62.73 L179.06,62.94 L179.68,63.16 L180.31,63.37 L180.93,63.59 L181.56,63.8 L182.18,64.01 L182.81,64.22 L183.43,64.44 L184.06,64.65 L184.68,64.86 L185.31,65.07 L185.93,65.28 L186.56,65.49 L187.18,65.7 L187.81,65.91 L188.43,66.12 L189.05,66.32 L189.68,66.53 L190.3,66.74 L190.93,66.95 L191.55,67.15 L192.18,67.36 L192.8,67.57 L193.43,67.77 L194.05,67.98 L194.68,68.18 L195.3,68.39 L195.93,68.59 L196.55,68.79 L197.18,69 L197.8,69.2 L198.43,69.4 L199.05,69.61 L199.68,69.81 L200.3,70.01 L200.92,70.21 L201.55,70.41 L202.17,70.61 L202.8,70.81 L203.42,71.01 L204.05,71.21 L204.67,71.41 L205.3,71.61 L205.92,71.8 L206.55,72 L207.17,72.2 L207.8,72.4 L208.42,72.59 L209.05,72.79 L209.67,72.98 L210.3,73.18 L210.92,73.37 L211.55,73.57 L212.17,73.76 L212.8,73.96 L213.42,74.15 L214.04,74.34 L214.67,74.54 L215.29,74.73 L215.92,74.92 L216.54,75.11 L217.17,75.3 L217.79,75.5 L218.42,75.69 L219.04,75.88 L219.67,76.07 L220.29,76.26 L220.92,76.44 L221.54,76.63 L222.17,76.82 L222.79,77.01 L223.42,77.2 L224.04,77.39 L224.67,77.57 L225.29,77.76 L225.91,77.95 L226.54,78.13 L227.16,78.32 L227.79,78.5 L228.41,78.69 L229.04,78.87 L229.66,79.06 L230.29,79.24 L230.91,79.42 L231.54,79.61 L232.16,79.79 L232.79,79.97 L233.41,80.15 L234.04,80.34 L234.66,80.52 L235.29,80.7 L235.91,80.88 L236.54,81.06 L237.16,81.24 L237.79,81.42 L238.41,81.6 L239.03,81.78 L239.66,81.96 L240.28,82.14 L240.91,82.31 L241.53,82.49 L242.16,82.67 L242.78,82.85 L243.41,83.02 L244.03,83.2 L244.66,83.38 L245.28,83.55 L245.91,83.73 L246.53,83.9 L247.16,84.08 L247.78,84.25 L248.41,84.43 L249.03,84.6 L249.66,84.77 L250.28,84.95 L250.9,85.12 L251.53,85.29 L252.15,85.46 L252.78,85.63 L253.4,85.81 L254.03,85.98 L254.65,86.15 L255.28,86.32 L255.9,86.49 L256.53,86.66 L257.15,86.83 L257.78,87 L258.4,87.17 L259.03,87.34 L259.65,87.5 L260.28,87.67 L260.9,87.84 L261.53,88.01 L262.15,88.17 L262.78,88.34 L263.4,88.51 L264.02,88.67 L264.65,88.84 L265.27,89 L265.9,89.17 L266.52,89.33 L267.15,89.5 L267.77,89.66 L268.4,89.83 L269.02,89.99 L269.65,90.15 L270.27,90.32 L270.9,90.48 L271.52,90.64 L272.15,90.8 L272.77,90.96 L273.4,91.13 L274.02,91.29 L274.65,91.45 L275.27,91.61 L275.89,91.77 L276.52,91.93 L277.14,92.09 L277.77,92.25 L278.39,92.41 L279.02,92.57 L279.64,92.72 L280.27,92.88 L280.89,93.04 L281.52,93.2 L282.14,93.35 L282.77,93.51 L283.39,93.67 L284.02,93.82 L284.64,93.98 L285.27,94.14 L285.89,94.29 L286.52,94.45 L287.14,94.6 L287.76,94.76 L288.39,94.91 L289.01,95.06 L289.64,95.22 L290.26,95.37 L290.89,95.52 L291.51,95.68 L292.14,95.83 L292.76,95.98 L293.39,96.13 L294.01,96.28 L294.64,96.44 L295.26,96.59 L295.89,96.74 L296.51,96.89 L297.14,97.04 L297.76,97.19 L298.39,97.34 L299.01,97.49 L299.64,97.64 L300.26,97.79" fill="none" stroke="#d55e00" stroke-width="1.5" stroke-linejoin="round" stroke-dasharray="15 6.9"/>
<path d="M50.36,8.9 L50.98,8.93 L51.61,8.96 L52.23,9 L52.86,9.03 L53.48,9.07 L54.11,9.1 L54.73,9.14 L55.36,9.17 L55.98,9.2 L56.61,9.23 L57.23,9.26 L57.86,9.29 L58.48,9.32 L59.11,9.36 L59.73,9.39 L60.36,9.43 L60.98,9.46 L61.61,9.5 L62.23,9.54 L62.86,9.58 L63.48,9.63 L64.1,9.67 L64.73,9.71 L65.35,9.75 L65.98,9.8 L66.6,9.84 L67.23,9.88 L67.85,9.93 L68.48,9.99 L69.1,10.05 L69.73,10.1 L70.35,10.16 L70.98,10.21 L71.6,10.26 L72.23,10.31 L72.85,10.37 L73.48,10.41 L74.1,10.45 L74.73,10.47 L75.35,10.49 L75.97,10.52 L76.6,10.56 L77.22,10.61 L77.85,10.67 L78.47,10.74 L79.1,10.79 L79.72,10.83 L80.35,10.86 L80.97,10.89 L81.6,10.92 L82.22,10.96 L82.85,10.99 L83.47,11.03 L84.1,11.06 L84.72,11.1 L85.35,11.15 L85.97,11.19 L86.6,11.23 L87.22,11.26 L87.84,11.28 L88.47,11.3 L89.09,11.32 L89.72,11.33 L90.34,11.36 L90.97,11.39 L91.59,11.41 L92.22,11.43 L92.84,11.45 L93.47,11.47 L94.09,11.49 L94.72,11.51 L95.34,11.53 L95.97,11.55 L96.59,11.58 L97.22,11.61 L97.84,11.65 L98.47,11.68 L99.09,11.72 L99.72,11.76 L100.34,11.81 L100.96,11.86 L101.59,11.91 L102.21,11.97 L102.84,12.02 L103.46,12.07 L104.09,12.12 L104.71,12.16 L105.34,12.2 L105.96,12.23 L106.59,12.26 L107.21,12.29 L107.84,12.3 L108.46,12.32 L109.09,12.34 L109.71,12.38 L110.34,12.42 L110.96,12.46 L111.59,12.5 L112.21,12.54 L112.84,12.59 L113.46,12.63 L114.08,12.68 L114.71,12.72 L115.33,12.75 L115.96,12.77 L116.58,12.79 L117.21,12.82 L117.83,12.86 L118.46,12.91 L119.08,12.96 L119.71,13 L120.33,13.05 L120.96,13.1 L121.58,13.14 L122.21,13.17 L122.83,13.21 L123.46,13.26 L124.08,13.32 L124.71,13.37 L125.33,13.39 L125.95,13.41 L126.58,13.41 L127.2,13.41 L127.83,13.41 L128.45,13.42 L129.08,13.45 L129.7,13.47 L130.33,13.5 L130.95,13.53 L131.58,13.56 L132.2,13.59 L132.83,13.62 L133.45,13.66 L134.08,13.68 L134.7,13.7 L135.33,13.72 L135.95,13.74 L136.58,13.77 L137.2,13.79 L137.82,13.8 L138.45,13.81 L139.07,13.81 L139.7,13.82 L140.32,13.84 L140.95,13.87 L141.57,13.91 L142.2,13.95 L142.82,13.99 L143.45,14.03 L144.07,14.06 L144.7,14.1 L145.32,14.15 L145.95,14.2 L146.57,14.24 L147.2,14.27 L147.82,14.3 L148.45,14.32 L149.07,14.34 L149.7,14.38 L150.32,14.43 L150.94,14.48 L151.57,14.53 L152.19,14.56 L152.82,14.58 L153.44,14.59 L154.07,14.6 L154.69,14.62 L155.32,14.65 L155.94,14.68 L156.57,14.71 L157.19,14.73 L157.82,14.74 L158.44,14.76 L159.07,14.79 L159.69,14.83 L160.32,14.87 L160.94,14.92 L161.57,14.95 L162.19,14.98 L162.81,15.01 L163.44,15.04 L164.06,15.08 L164.69,15.13 L165.31,15.16 L165.94,15.19 L166.56,15.22 L167.19,15.24 L167.81,15.25 L168.44,15.26 L169.06,15.26 L169.69,15.27 L170.31,15.3 L170.94,15.33 L171.56,15.37 L172.19,15.4 L172.81,15.42 L173.44,15.43 L174.06,15.45 L174.69,15.48 L175.31,15.52 L175.93,15.57 L176.56,15.63 L177.18,15.67 L177.81,15.71 L178.43,15.72 L179.06,15.72 L179.68,15.71 L180.31,15.71 L180.93,15.73 L181.56,15.75 L182.18,15.79 L182.81,15.84 L183.43,15.89 L184.06,15.93 L184.68,15.98 L185.31,16.02 L185.93,16.06 L186.56,16.1 L187.18,16.13 L187.81,16.15 L188.43,16.17 L189.05,16.18 L189.68,16.19 L190.3,16.21 L190.93,16.24 L191.55,16.28 L192.18,16.32 L192.8,16.35 L193.43,16.38 L194.05,16.4 L194.68,16.42 L195.3,16.44 L195.93,16.46 L196.55,16.47 L197.18,16.48 L197.8,16.49 L198.43,16.51 L199.05,16.53 L199.68,16.55 L200.3,16.58 L200.92,16.61 L201.55,16.66 L202.17,16.7 L202.8,16.75 L203.42,16.8 L204.05,16.83 L204.67,16.85 L205.3,16.88 L205.92,16.9 L206.55,16.93 L207.17,16.96 L207.8,16.98 L208.42,16.98 L209.05,16.98 L209.67,16.99 L210.3,17 L210.92,17.02 L211.55,17.04 L212.17,17.08 L212.8,17.1 L213.42,17.13 L214.04,17.15 L214.67,17.17 L215.29,17.19 L215.92,17.22 L216.54,17.26 L217.17,17.28 L217.79,17.31 L218.42,17.33 L219.04,17.35 L219.67,17.38 L220.29,17.43 L220.92,17.46 L221.54,17.49 L222.17,17.5 L222.79,17.51 L223.42,17.52 L224.04,17.53 L224.67,17.55 L225.29,17.58 L225.91,17.59 L226.54,17.6 L227.16,17.6 L227.79,17.62 L228.41,17.64 L229.04,17.68 L229.66,17.73 L230.29,17.79 L230.91,17.85 L231.54,17.9 L232.16,17.94 L232.79,17.97 L233.41,17.99 L234.04,18 L234.66,18.02 L235.29,18.04 L235.91,18.07 L236.54,18.1 L237.16,18.14 L237.79,18.17 L238.41,18.22 L239.03,18.26 L239.66,18.31 L240.28,18.35 L240.91,18.37 L241.53,18.4 L242.16,18.41 L242.78,18.43 L243.41,18.46 L244.03,18.49 L244.66,18.52 L245.28,18.56 L245.91,18.6 L246.53,18.63 L247.16,18.66 L247.78,18.69 L248.41,18.71 L249.03,18.73 L249.66,18.76 L250.28,18.78 L250.9,18.81 L251.53,18.84 L252.15,18.87 L252.78,18.91 L253.4,18.94 L254.03,18.97 L254.65,18.99 L255.28,19 L255.9,19.01 L256.53,19.02 L257.15,19.03 L257.78,19.04 L258.4,19.06 L259.03,19.08 L259.65,19.11 L260.28,19.14 L260.9,19.18 L261.53,19.23 L262.15,19.27 L262.78,19.3 L263.4,19.34 L264.02,19.37 L264.65,19.4 L265.27,19.42 L265.9,19.42 L266.52,19.42 L267.15,19.42 L267.77,19.43 L268.4,19.45 L269.02,19.48 L269.65,19.51 L270.27,19.52 L270.9,19.53 L271.52,19.54 L272.15,19.57 L272.77,19.62 L273.4,19.66 L274.02,19.7 L274.65,19.72 L275.27,19.73 L275.89,19.73 L276.52,19.73 L277.14,19.74 L277.77,19.77 L278.39,19.8 L279.02,19.84 L279.64,19.87 L280.27,19.9 L280.89,19.91 L281.52,19.92 L282.14,19.93 L282.77,19.95 L283.39,19.99 L284.02,20.05 L284.64,20.11 L285.27,20.16 L285.89,20.21 L286.52,20.25 L287.14,20.28 L287.76,20.3 L288.39,20.33 L289.01,20.35 L289.64,20.38 L290.26,20.4 L290.89,20.42 L291.51,20.47 L292.14,20.53 L292.76,20.59 L293.39,20.65 L294.01,20.7 L294.64,20.73 L295.26,20.74 L295.89,20.76 L296.51,20.78 L297.14,20.8 L297.76,20.84 L298.39,20.88 L299.01,20.92 L299.64,20.95 L300.26,20.98" fill="none" stroke="#cc78bc" stroke-width="1.5" stroke-linejoin="round"/>
<path d="M50.36,8.9 L50.98,8.93 L51.61,8.96 L52.23,9 L52.86,9.03 L53.48,9.06 L54.11,9.1 L54.73,9.13 L55.36,9.17 L55.98,9.21 L56.61,9.24 L57.23,9.27 L57.86,9.29 L58.48,9.32 L59.11,9.35 L59.73,9.39 L60.36,9.43 L60.98,9.47 L61.61,9.52 L62.23,9.56 L62.86,9.6 L63.48,9.64 L64.1,9.68 L64.73,9.73 L65.35,9.77 L65.98,9.81 L66.6,9.85 L67.23,9.88 L67.85,9.93 L68.48,9.98 L69.1,10.03 L69.73,10.09 L70.35,10.15 L70.98,10.21 L71.6,10.27 L72.23,10.33 L72.85,10.38 L73.48,10.41 L74.1,10.44 L74.73,10.46 L75.35,10.49 L75.97,10.52 L76.6,10.54 L77.22,10.56 L77.85,10.58 L78.47,10.6 L79.1,10.62 L79.72,10.63 L80.35,10.64 L80.97,10.64 L81.6,10.65 L82.22,10.68 L82.85,10.72 L83.47,10.77 L84.1,10.8 L84.72,10.83 L85.35,10.84 L85.97,10.85 L86.6,10.87 L87.22,10.9 L87.84,10.93 L88.47,10.97 L89.09,11.01 L89.72,11.04 L90.34,11.08 L90.97,11.11 L91.59,11.14 L92.22,11.16 L92.84,11.18 L93.47,11.19 L94.09,11.18 L94.72,11.17 L95.34,11.17 L95.97,11.18 L96.59,11.2 L97.22,11.25 L97.84,11.29 L98.47,11.32 L99.09,11.36 L99.72,11.41 L100.34,11.46 L100.96,11.52 L101.59,11.57 L102.21,11.6 L102.84,11.62 L103.46,11.64 L104.09,11.65 L104.71,11.67 L105.34,11.68 L105.96,11.7 L106.59,11.73 L107.21,11.76 L107.84,11.79 L108.46,11.83 L109.09,11.86 L109.71,11.88 L110.34,11.9 L110.96,11.91 L111.59,11.91 L112.21,11.92 L112.84,11.93 L113.46,11.94 L114.08,11.97 L114.71,12 L115.33,12.03 L115.96,12.07 L116.58,12.13 L117.21,12.18 L117.83,12.23 L118.46,12.26 L119.08,12.27 L119.71,12.28 L120.33,12.29 L120.96,12.31 L121.58,12.33 L122.21,12.37 L122.83,12.41 L123.46,12.47 L124.08,12.53 L124.71,12.61 L125.33,12.68 L125.95,12.73 L126.58,12.77 L127.2,12.78 L127.83,12.79 L128.45,12.79 L129.08,12.78 L129.7,12.78 L130.33,12.79 L130.95,12.81 L131.58,12.85 L132.2,12.89 L132.83,12.92 L133.45,12.95 L134.08,12.98 L134.7,13 L135.33,13.01 L135.95,13.01 L136.58,13.03 L137.2,13.05 L137.82,13.08 L138.45,13.1 L139.07,13.11 L139.7,13.11 L140.32,13.1 L140.95,13.1 L141.57,13.11 L142.2,13.14 L142.82,13.17 L143.45,13.19 L144.07,13.21 L144.7,13.23 L145.32,13.25 L145.95,13.29 L146.57,13.33 L147.2,13.37 L147.82,13.41 L148.45,13.45 L149.07,13.47 L149.7,13.49 L150.32,13.51 L150.94,13.53 L151.57,13.56 L152.19,13.59 L152.82,13.61 L153.44,13.62 L154.07,13.62 L154.69,13.63 L155.32,13.65 L155.94,13.69 L156.57,13.73 L157.19,13.78 L157.82,13.82 L158.44,13.85 L159.07,13.87 L159.69,13.89 L160.32,13.91 L160.94,13.94 L161.57,13.99 L162.19,14.04 L162.81,14.08 L163.44,14.11 L164.06,14.12 L164.69,14.13 L165.31,14.14 L165.94,14.15 L166.56,14.18 L167.19,14.24 L167.81,14.3 L168.44,14.36 L169.06,14.41 L169.69,14.45 L170.31,14.48 L170.94,14.51 L171.56,14.55 L172.19,14.59 L172.81,14.63 L173.44,14.67 L174.06,14.7 L174.69,14.72 L175.31,14.75 L175.93,14.79 L176.56,14.83 L177.18,14.86 L177.81,14.88 L178.43,14.89 L179.06,14.91 L179.68,14.94 L180.31,14.98 L180.93,15.03 L181.56,15.09 L182.18,15.15 L182.81,15.19 L183.43,15.22 L184.06,15.23 L184.68,15.25 L185.31,15.27 L185.93,15.28 L186.56,15.3 L187.18,15.3 L187.81,15.29 L188.43,15.28 L189.05,15.29 L189.68,15.3 L190.3,15.32 L190.93,15.34 L191.55,15.36 L192.18,15.38 L192.8,15.39 L193.43,15.41 L194.05,15.42 L194.68,15.45 L195.3,15.47 L195.93,15.51 L196.55,15.55 L197.18,15.59 L197.8,15.62 L198.43,15.64 L199.05,15.66 L199.68,15.67 L200.3,15.67 L200.92,15.66 L201.55,15.66 L202.17,15.67 L202.8,15.68 L203.42,15.7 L204.05,15.73 L204.67,15.79 L205.3,15.83 L205.92,15.87 L206.55,15.9 L207.17,15.93 L207.8,15.96 L208.42,15.99 L209.05,16.03 L209.67,16.07 L210.3,16.12 L210.92,16.15 L211.55,16.19 L212.17,16.23 L212.8,16.27 L213.42,16.31 L214.04,16.35 L214.67,16.39 L215.29,16.43 L215.92,16.46 L216.54,16.5 L217.17,16.55 L217.79,16.6 L218.42,16.66 L219.04,16.71 L219.67,16.75 L220.29,16.78 L220.92,16.81 L221.54,16.83 L222.17,16.85 L222.79,16.86 L223.42,16.88 L224.04,16.9 L224.67,16.93 L225.29,16.96 L225.91,17 L226.54,17.03 L227.16,17.07 L227.79,17.1 L228.41,17.14 L229.04,17.17 L229.66,17.21 L230.29,17.25 L230.91,17.29 L231.54,17.33 L232.16,17.36 L232.79,17.4 L233.41,17.44 L234.04,17.47 L234.66,17.51 L235.29,17.55 L235.91,17.61 L236.54,17.66 L237.16,17.7 L237.79,17.73 L238.41,17.74 L239.03,17.75 L239.66,17.76 L240.28,17.78 L240.91,17.8 L241.53,17.83 L242.16,17.87 L242.78,17.91 L243.41,17.96 L244.03,18.01 L244.66,18.07 L245.28,18.12 L245.91,18.17 L246.53,18.22 L247.16,18.27 L247.78,18.32 L248.41,18.36 L249.03,18.4 L249.66,18.44 L250.28,18.48 L250.9,18.51 L251.53,18.55 L252.15,18.59 L252.78,18.63 L253.4,18.67 L254.03,18.7 L254.65,18.74 L255.28,18.78 L255.9,18.82 L256.53,18.86 L257.15,18.9 L257.78,18.95 L258.4,19.01 L259.03,19.07 L259.65,19.14 L260.28,19.19 L260.9,19.22 L261.53,19.24 L262.15,19.25 L262.78,19.26 L263.4,19.26 L264.02,19.27 L264.65,19.28 L265.27,19.29 L265.9,19.3 L266.52,19.31 L267.15,19.33 L267.77,19.36 L268.4,19.39 L269.02,19.42 L269.65,19.44 L270.27,19.46 L270.9,19.48 L271.52,19.49 L272.15,19.51 L272.77,19.54 L273.4,19.57 L274.02,19.6 L274.65,19.62 L275.27,19.64 L275.89,19.65 L276.52,19.66 L277.14,19.68 L277.77,19.71 L278.39,19.73 L279.02,19.74 L279.64,19.74 L280.27,19.74 L280.89,19.74 L281.52,19.76 L282.14,19.8 L282.77,19.85 L283.39,19.9 L284.02,19.94 L284.64,19.99 L285.27,20.03 L285.89,20.05 L286.52,20.08 L287.14,20.1 L287.76,20.12 L288.39,20.14 L289.01,20.17 L289.64,20.2 L290.26,20.23 L290.89,20.26 L291.51,20.28 L292.14,20.31 L292.76,20.33 L293.39,20.36 L294.01,20.38 L294.64,20.4 L295.26,20.42 L295.89,20.43 L296.51,20.44 L297.14,20.46 L297.76,20.5 L298.39,20.54 L299.01,20.6 L299.64,20.65 L300.26,20.7" fill="none" stroke="#cc78bc" stroke-width="1.5" stroke-linejoin="round" stroke-dasharray="15 6.9"/>
<path d="M50.36,8.9 L50.98,8.91 L51.61,8.92 L52.23,8.94 L52.86,8.95 L53.48,8.96 L54.11,8.97 L54.73,8.98 L55.36,8.98 L55.98,8.98 L56.61,8.98 L57.23,8.98 L57.86,8.99 L58.48,8.99 L59.11,9 L59.73,9.01 L60.36,9.01 L60.98,9.02 L61.61,9.02 L62.23,9.02 L62.86,9.03 L63.48,9.03 L64.1,9.03 L64.73,9.03 L65.35,9.03 L65.98,9.03 L66.6,9.04 L67.23,9.05 L67.85,9.05 L68.48,9.06 L69.1,9.06 L69.73,9.07 L70.35,9.07 L70.98,9.07 L71.6,9.08 L72.23,9.08 L72.85,9.08 L73.48,9.09 L74.1,9.09 L74.73,9.1 L75.35,9.11 L75.97,9.11 L76.6,9.12 L77.22,9.12 L77.85,9.12 L78.47,9.13 L79.1,9.14 L79.72,9.15 L80.35,9.16 L80.97,9.17 L81.6,9.18 L82.22,9.19 L82.85,9.19 L83.47,9.19 L84.1,9.2 L84.72,9.2 L85.35,9.21 L85.97,9.22 L86.6,9.23 L87.22,9.23 L87.84,9.24 L88.47,9.24 L89.09,9.24 L89.72,9.24 L90.34,9.24 L90.97,9.25 L91.59,9.25 L92.22,9.26 L92.84,9.27 L93.47,9.28 L94.09,9.29 L94.72,9.3 L95.34,9.3 L95.97,9.31 L96.59,9.31 L97.22,9.31 L97.84,9.31 L98.47,9.31 L99.09,9.32 L99.72,9.32 L100.34,9.33 L100.96,9.34 L101.59,9.35 L102.21,9.37 L102.84,9.38 L103.46,9.4 L104.09,9.41 L104.71,9.41 L105.34,9.41 L105.96,9.41 L106.59,9.41 L107.21,9.41 L107.84,9.41 L108.46,9.41 L109.09,9.42 L109.71,9.43 L110.34,9.43 L110.96,9.44 L111.59,9.45 L112.21,9.46 L112.84,9.46 L113.46,9.47 L114.08,9.48 L114.71,9.49 L115.33,9.49 L115.96,9.49 L116.58,9.5 L117.21,9.51 L117.83,9.52 L118.46,9.53 L119.08,9.54 L119.71,9.56 L120.33,9.56 L120.96,9.57 L121.58,9.57 L122.21,9.57 L122.83,9.57 L123.46,9.58 L124.08,9.58 L124.71,9.58 L125.33,9.58 L125.95,9.58 L126.58,9.59 L127.2,9.59 L127.83,9.6 L128.45,9.61 L129.08,9.62 L129.7,9.63 L130.33,9.64 L130.95,9.65 L131.58,9.66 L132.2,9.66 L132.83,9.67 L133.45,9.67 L134.08,9.67 L134.7,9.67 L135.33,9.68 L135.95,9.69 L136.58,9.7 L137.2,9.71 L137.82,9.72 L138.45,9.73 L139.07,9.74 L139.7,9.74 L140.32,9.75 L140.95,9.75 L141.57,9.75 L142.2,9.76 L142.82,9.76 L143.45,9.77 L144.07,9.78 L144.7,9.79 L145.32,9.8 L145.95,9.81 L146.57,9.81 L147.2,9.82 L147.82,9.82 L148.45,9.82 L149.07,9.83 L149.7,9.84 L150.32,9.85 L150.94,9.85 L151.57,9.86 L152.19,9.86 L152.82,9.87 L153.44,9.87 L154.07,9.88 L154.69,9.88 L155.32,9.89 L155.94,9.9 L156.57,9.9 L157.19,9.9 L157.82,9.91 L158.44,9.91 L159.07,9.92 L159.69,9.92 L160.32,9.93 L160.94,9.94 L161.57,9.95 L162.19,9.95 L162.81,9.95 L163.44,9.96 L164.06,9.96 L164.69,9.96 L165.31,9.97 L165.94,9.98 L166.56,9.99 L167.19,9.99 L167.81,10 L168.44,10 L169.06,10.01 L169.69,10.01 L170.31,10.02 L170.94,10.04 L171.56,10.05 L172.19,10.07 L172.81,10.08 L173.44,10.09 L174.06,10.1 L174.69,10.11 L175.31,10.12 L175.93,10.13 L176.56,10.13 L177.18,10.14 L177.81,10.15 L178.43,10.15 L179.06,10.16 L179.68,10.17 L180.31,10.18 L180.93,10.19 L181.56,10.19 L182.18,10.19 L182.81,10.2 L183.43,10.21 L184.06,10.21 L184.68,10.22 L185.31,10.23 L185.93,10.23 L186.56,10.23 L187.18,10.23 L187.81,10.23 L188.43,10.24 L189.05,10.24 L189.68,10.25 L190.3,10.26 L190.93,10.27 L191.55,10.28 L192.18,10.29 L192.8,10.3 L193.43,10.3 L194.05,10.31 L194.68,10.31 L195.3,10.32 L195.93,10.34 L196.55,10.36 L197.18,10.38 L197.8,10.39 L198.43,10.4 L199.05,10.41 L199.68,10.41 L200.3,10.4 L200.92,10.4 L201.55,10.4 L202.17,10.4 L202.8,10.41 L203.42,10.41 L204.05,10.41 L204.67,10.42 L205.3,10.42 L205.92,10.43 L206.55,10.44 L207.17,10.45 L207.8,10.46 L208.42,10.47 L209.05,10.48 L209.67,10.49 L210.3,10.5 L210.92,10.5 L211.55,10.51 L212.17,10.51 L212.8,10.51 L213.42,10.52 L214.04,10.53 L214.67,10.54 L215.29,10.55 L215.92,10.57 L216.54,10.58 L217.17,10.59 L217.79,10.59 L218.42,10.59 L219.04,10.6 L219.67,10.6 L220.29,10.6 L220.92,10.6 L221.54,10.61 L222.17,10.62 L222.79,10.63 L223.42,10.64 L224.04,10.65 L224.67,10.65 L225.29,10.65 L225.91,10.66 L226.54,10.66 L227.16,10.67 L227.79,10.69 L228.41,10.69 L229.04,10.7 L229.66,10.71 L230.29,10.72 L230.91,10.72 L231.54,10.73 L232.16,10.74 L232.79,10.75 L233.41,10.76 L234.04,10.77 L234.66,10.78 L235.29,10.79 L235.91,10.8 L236.54,10.81 L237.16,10.82 L237.79,10.82 L238.41,10.83 L239.03,10.84 L239.66,10.85 L240.28,10.86 L240.91,10.87 L241.53,10.87 L242.16,10.87 L242.78,10.88 L243.41,10.88 L244.03,10.89 L244.66,10.9 L245.28,10.91 L245.91,10.91 L246.53,10.92 L247.16,10.93 L247.78,10.93 L248.41,10.94 L249.03,10.95 L249.66,10.97 L250.28,10.98 L250.9,10.99 L251.53,11 L252.15,11 L252.78,11 L253.4,11 L254.03,11 L254.65,11 L255.28,11 L255.9,11.02 L256.53,11.03 L257.15,11.05 L257.78,11.06 L258.4,11.07 L259.03,11.08 L259.65,11.09 L260.28,11.1 L260.9,11.11 L261.53,11.11 L262.15,11.12 L262.78,11.13 L263.4,11.14 L264.02,11.14 L264.65,11.15 L265.27,11.16 L265.9,11.16 L266.52,11.16 L267.15,11.17 L267.77,11.17 L268.4,11.18 L269.02,11.2 L269.65,11.22 L270.27,11.23 L270.9,11.25 L271.52,11.26 L272.15,11.27 L272.77,11.27 L273.4,11.28 L274.02,11.28 L274.65,11.29 L275.27,11.29 L275.89,11.29 L276.52,11.3 L277.14,11.3 L277.77,11.31 L278.39,11.33 L279.02,11.34 L279.64,11.36 L280.27,11.37 L280.89,11.37 L281.52,11.37 L282.14,11.37 L282.77,11.37 L283.39,11.38 L284.02,11.38 L284.64,11.4 L285.27,11.41 L285.89,11.43 L286.52,11.44 L287.14,11.46 L287.76,11.47 L288.39,11.47 L289.01,11.48 L289.64,11.48 L290.26,11.49 L290.89,11.5 L291.51,11.5 L292.14,11.51 L292.76,11.52 L293.39,11.53 L294.01,11.53 L294.64,11.54 L295.26,11.55 L295.89,11.56 L296.51,11.57 L297.14,11.58 L297.76,11.58 L298.39,11.58 L299.01,11.59 L299.64,11.6 L300.26,11.6" fill="none" stroke="#0173b2" stroke-width="1.5" stroke-linejoin="round"/>
<path d="M50.36,8.9 L50.98,8.92 L51.61,8.92 L52.23,8.93 L52.86,8.93 L53.48,8.93 L54.11,8.93 L54.73,8.94 L55.36,8.94 L55.98,8.95 L56.61,8.95 L57.23,8.96 L57.86,8.97 L58.48,8.97 L59.11,8.98 L59.73,8.98 L60.36,8.99 L60.98,9 L61.61,9 L62.23,9.01 L62.86,9.02 L63.48,9.03 L64.1,9.04 L64.73,9.05 L65.35,9.05 L65.98,9.06 L66.6,9.06 L67.23,9.07 L67.85,9.08 L68.48,9.08 L69.1,9.09 L69.73,9.09 L70.35,9.1 L70.98,9.1 L71.6,9.1 L72.23,9.11 L72.85,9.11 L73.48,9.12 L74.1,9.13 L74.73,9.13 L75.35,9.13 L75.97,9.14 L76.6,9.14 L77.22,9.14 L77.85,9.14 L78.47,9.14 L79.1,9.16 L79.72,9.17 L80.35,9.18 L80.97,9.19 L81.6,9.2 L82.22,9.2 L82.85,9.21 L83.47,9.21 L84.1,9.22 L84.72,9.22 L85.35,9.23 L85.97,9.24 L86.6,9.24 L87.22,9.25 L87.84,9.25 L88.47,9.26 L89.09,9.27 L89.72,9.27 L90.34,9.27 L90.97,9.28 L91.59,9.28 L92.22,9.29 L92.84,9.3 L93.47,9.31 L94.09,9.32 L94.72,9.32 L95.34,9.33 L95.97,9.33 L96.59,9.33 L97.22,9.33 L97.84,9.33 L98.47,9.33 L99.09,9.34 L99.72,9.34 L100.34,9.35 L100.96,9.36 L101.59,9.38 L102.21,9.39 L102.84,9.4 L103.46,9.4 L104.09,9.4 L104.71,9.41 L105.34,9.41 L105.96,9.42 L106.59,9.43 L107.21,9.44 L107.84,9.45 L108.46,9.45 L109.09,9.46 L109.71,9.47 L110.34,9.47 L110.96,9.48 L111.59,9.49 L112.21,9.5 L112.84,9.51 L113.46,9.51 L114.08,9.52 L114.71,9.52 L115.33,9.52 L115.96,9.53 L116.58,9.53 L117.21,9.54 L117.83,9.55 L118.46,9.56 L119.08,9.56 L119.71,9.56 L120.33,9.57 L120.96,9.57 L121.58,9.58 L122.21,9.58 L122.83,9.59 L123.46,9.6 L124.08,9.6 L124.71,9.61 L125.33,9.61 L125.95,9.62 L126.58,9.62 L127.2,9.63 L127.83,9.63 L128.45,9.64 L129.08,9.65 L129.7,9.65 L130.33,9.65 L130.95,9.66 L131.58,9.67 L132.2,9.67 L132.83,9.68 L133.45,9.7 L134.08,9.71 L134.7,9.73 L135.33,9.74 L135.95,9.75 L136.58,9.75 L137.2,9.75 L137.82,9.75 L138.45,9.75 L139.07,9.74 L139.7,9.74 L140.32,9.75 L140.95,9.76 L141.57,9.77 L142.2,9.78 L142.82,9.79 L143.45,9.8 L144.07,9.81 L144.7,9.81 L145.32,9.82 L145.95,9.82 L146.57,9.82 L147.2,9.83 L147.82,9.83 L148.45,9.84 L149.07,9.85 L149.7,9.86 L150.32,9.87 L150.94,9.88 L151.57,9.9 L152.19,9.91 L152.82,9.91 L153.44,9.92 L154.07,9.93 L154.69,9.94 L155.32,9.95 L155.94,9.96 L156.57,9.97 L157.19,9.97 L157.82,9.97 L158.44,9.97 L159.07,9.98 L159.69,9.98 L160.32,9.99 L160.94,10 L161.57,10 L162.19,10 L162.81,10 L163.44,10 L164.06,10 L164.69,10.01 L165.31,10.01 L165.94,10.03 L166.56,10.03 L167.19,10.04 L167.81,10.05 L168.44,10.06 L169.06,10.06 L169.69,10.07 L170.31,10.07 L170.94,10.08 L171.56,10.09 L172.19,10.1 L172.81,10.11 L173.44,10.12 L174.06,10.13 L174.69,10.14 L175.31,10.15 L175.93,10.16 L176.56,10.17 L177.18,10.18 L177.81,10.19 L178.43,10.2 L179.06,10.2 L179.68,10.2 L180.31,10.2 L180.93,10.21 L181.56,10.21 L182.18,10.22 L182.81,10.23 L183.43,10.24 L184.06,10.25 L184.68,10.26 L185.31,10.27 L185.93,10.28 L186.56,10.28 L187.18,10.29 L187.81,10.3 L188.43,10.3 L189.05,10.31 L189.68,10.31 L190.3,10.31 L190.93,10.31 L191.55,10.31 L192.18,10.31 L192.8,10.32 L193.43,10.33 L194.05,10.34 L194.68,10.36 L195.3,10.37 L195.93,10.39 L196.55,10.4 L197.18,10.42 L197.8,10.43 L198.43,10.44 L199.05,10.45 L199.68,10.45 L200.3,10.45 L200.92,10.45 L201.55,10.46 L202.17,10.46 L202.8,10.47 L203.42,10.48 L204.05,10.49 L204.67,10.5 L205.3,10.51 L205.92,10.51 L206.55,10.52 L207.17,10.53 L207.8,10.54 L208.42,10.55 L209.05,10.56 L209.67,10.56 L210.3,10.56 L210.92,10.56 L211.55,10.56 L212.17,10.56 L212.8,10.56 L213.42,10.57 L214.04,10.58 L214.67,10.59 L215.29,10.6 L215.92,10.61 L216.54,10.61 L217.17,10.62 L217.79,10.62 L218.42,10.63 L219.04,10.64 L219.67,10.66 L220.29,10.67 L220.92,10.68 L221.54,10.69 L222.17,10.71 L222.79,10.72 L223.42,10.73 L224.04,10.74 L224.67,10.75 L225.29,10.76 L225.91,10.77 L226.54,10.78 L227.16,10.79 L227.79,10.79 L228.41,10.79 L229.04,10.79 L229.66,10.79 L230.29,10.8 L230.91,10.81 L231.54,10.82 L232.16,10.84 L232.79,10.86 L233.41,10.87 L234.04,10.88 L234.66,10.89 L235.29,10.89 L235.91,10.9 L236.54,10.9 L237.16,10.91 L237.79,10.91 L238.41,10.92 L239.03,10.93 L239.66,10.94 L240.28,10.94 L240.91,10.94 L241.53,10.94 L242.16,10.94 L242.78,10.94 L243.41,10.94 L244.03,10.95 L244.66,10.97 L245.28,10.98 L245.91,11 L246.53,11.01 L247.16,11.02 L247.78,11.03 L248.41,11.04 L249.03,11.05 L249.66,11.05 L250.28,11.06 L250.9,11.06 L251.53,11.07 L252.15,11.08 L252.78,11.08 L253.4,11.09 L254.03,11.1 L254.65,11.11 L255.28,11.12 L255.9,11.12 L256.53,11.13 L257.15,11.14 L257.78,11.15 L258.4,11.16 L259.03,11.18 L259.65,11.19 L260.28,11.2 L260.9,11.2 L261.53,11.21 L262.15,11.21 L262.78,11.22 L263.4,11.23 L264.02,11.24 L264.65,11.25 L265.27,11.26 L265.9,11.28 L266.52,11.29 L267.15,11.31 L267.77,11.32 L268.4,11.32 L269.02,11.33 L269.65,11.33 L270.27,11.33 L270.9,11.33 L271.52,11.34 L272.15,11.35 L272.77,11.37 L273.4,11.38 L274.02,11.4 L274.65,11.41 L275.27,11.41 L275.89,11.42 L276.52,11.42 L277.14,11.42 L277.77,11.43 L278.39,11.43 L279.02,11.43 L279.64,11.43 L280.27,11.44 L280.89,11.45 L281.52,11.46 L282.14,11.48 L282.77,11.49 L283.39,11.5 L284.02,11.51 L284.64,11.52 L285.27,11.53 L285.89,11.54 L286.52,11.55 L287.14,11.56 L287.76,11.57 L288.39,11.59 L289.01,11.59 L289.64,11.6 L290.26,11.61 L290.89,11.61 L291.51,11.62 L292.14,11.62 L292.76,11.62 L293.39,11.63 L294.01,11.63 L294.64,11.64 L295.26,11.66 L295.89,11.67 L296.51,11.68 L297.14,11.7 L297.76,11.71 L298.39,11.72 L299.01,11.74 L299.64,11.75 L300.26,11.76" fill="none" stroke="#0173b2" stroke-width="1.5" stroke-linejoin="round" stroke-dasharray="15 6.9"/>
</g>
<g clip-path="url(#cb)">
<path d="M392.7,13.1 L393.39,13.53 L394.09,13.96 L394.78,14.39 L395.48,14.83 L396.17,15.29 L396.87,15.76 L397.56,16.22 L398.26,16.68 L398.95,17.12 L399.65,17.52 L400.34,17.9 L401.04,18.29 L401.73,18.7 L402.43,19.16 L403.12,19.64 L403.82,20.12 L404.51,20.59 L405.21,21.08 L405.9,21.61 L406.59,22.19 L407.29,22.78 L407.98,23.35 L408.68,23.9 L409.37,24.44 L410.07,24.99 L410.76,25.52 L411.46,26.08 L412.15,26.83 L412.85,27.6 L413.54,28.34 L414.24,29.07 L414.93,29.77 L415.63,30.45 L416.32,31.15 L417.02,31.87 L417.71,32.59 L418.41,33.18 L419.1,33.61 L419.8,33.92 L420.49,34.22 L421.18,34.59 L421.88,35.13 L422.57,35.83 L423.27,36.65 L423.96,37.48 L424.66,38.23 L425.35,38.7 L426.05,39.09 L426.74,39.49 L427.44,39.93 L428.13,40.39 L428.83,40.85 L429.52,41.33 L430.22,41.81 L430.91,42.33 L431.61,42.9 L432.3,43.46 L433,43.99 L433.69,44.42 L434.38,44.73 L435.08,44.96 L435.77,45.17 L436.47,45.4 L437.16,45.75 L437.86,46.11 L438.55,46.43 L439.25,46.69 L439.94,46.95 L440.64,47.19 L441.33,47.42 L442.03,47.69 L442.72,48 L443.42,48.28 L444.11,48.64 L444.81,49.13 L445.5,49.58 L446.2,50.02 L446.89,50.48 L447.59,51.01 L448.28,51.65 L448.97,52.37 L449.67,53.1 L450.36,53.81 L451.06,54.5 L451.75,55.16 L452.45,55.78 L453.14,56.37 L453.84,56.89 L454.53,57.34 L455.23,57.73 L455.92,58.08 L456.62,58.26 L457.31,58.47 L458.01,58.8 L458.7,59.27 L459.4,59.83 L460.09,60.35 L460.79,60.86 L461.48,61.42 L462.17,62.04 L462.87,62.67 L463.56,63.26 L464.26,63.79 L464.95,64.2 L465.65,64.51 L466.34,64.79 L467.04,65.16 L467.73,65.67 L468.43,66.28 L469.12,66.92 L469.82,67.56 L470.51,68.2 L471.21,68.79 L471.9,69.31 L472.6,69.8 L473.29,70.33 L473.99,70.98 L474.68,71.7 L475.38,72.38 L476.07,72.74 L476.76,72.89 L477.46,72.94 L478.15,72.92 L478.85,72.97 L479.54,73.15 L480.24,73.44 L480.93,73.79 L481.63,74.14 L482.32,74.51 L483.02,74.91 L483.71,75.35 L484.41,75.8 L485.1,76.21 L485.8,76.54 L486.49,76.82 L487.19,77.09 L487.88,77.38 L488.58,77.68 L489.27,77.95 L489.96,78.15 L490.66,78.27 L491.35,78.31 L492.05,78.38 L492.74,78.61 L493.44,79.02 L494.13,79.54 L494.83,80.12 L495.52,80.66 L496.22,81.15 L496.91,81.63 L497.61,82.13 L498.3,82.73 L499,83.4 L499.69,83.96 L500.39,84.4 L501.08,84.72 L501.78,85 L502.47,85.36 L503.17,85.85 L503.86,86.48 L504.55,87.18 L505.25,87.8 L505.94,88.25 L506.64,88.5 L507.33,88.62 L508.03,88.76 L508.72,89 L509.42,89.35 L510.11,89.79 L510.81,90.17 L511.5,90.42 L512.2,90.6 L512.89,90.86 L513.59,91.26 L514.28,91.78 L514.98,92.37 L515.67,92.94 L516.37,93.4 L517.06,93.75 L517.75,94.14 L518.45,94.61 L519.14,95.15 L519.84,95.72 L520.53,96.16 L521.23,96.57 L521.92,96.97 L522.62,97.27 L523.31,97.42 L524.01,97.47 L524.7,97.51 L525.4,97.65 L526.09,97.97 L526.79,98.41 L527.48,98.92 L528.18,99.38 L528.87,99.65 L529.57,99.78 L530.26,100.01 L530.96,100.42 L531.65,100.97 L532.34,101.64 L533.04,102.36 L533.73,103.01 L534.43,103.46 L535.12,103.64 L535.82,103.6 L536.51,103.51 L537.21,103.53 L537.9,103.7 L538.6,104.03 L539.29,104.53 L539.99,105.14 L540.68,105.81 L541.38,106.45 L542.07,107.03 L542.77,107.62 L543.46,108.18 L544.16,108.64 L544.85,109.02 L545.54,109.32 L546.24,109.53 L546.93,109.66 L547.63,109.8 L548.32,110.07 L549.02,110.51 L549.71,111.02 L550.41,111.51 L551.1,111.95 L551.8,112.33 L552.49,112.66 L553.19,112.93 L553.88,113.2 L554.58,113.47 L555.27,113.62 L555.97,113.7 L556.66,113.83 L557.36,114.05 L558.05,114.33 L558.75,114.64 L559.44,115.01 L560.13,115.48 L560.83,116.02 L561.52,116.62 L562.22,117.28 L562.91,117.9 L563.61,118.34 L564.3,118.65 L565,118.97 L565.69,119.33 L566.39,119.72 L567.08,120.07 L567.78,120.29 L568.47,120.38 L569.17,120.4 L569.86,120.43 L570.56,120.56 L571.25,120.82 L571.95,121.18 L572.64,121.59 L573.34,121.98 L574.03,122.28 L574.72,122.55 L575.42,122.83 L576.11,123.17 L576.81,123.56 L577.5,123.98 L578.2,124.36 L578.89,124.65 L579.59,124.91 L580.28,125.24 L580.98,125.69 L581.67,126.24 L582.37,126.73 L583.06,127.09 L583.76,127.29 L584.45,127.39 L585.15,127.5 L585.84,127.68 L586.54,127.94 L587.23,128.23 L587.92,128.46 L588.62,128.55 L589.31,128.62 L590.01,128.8 L590.7,129.15 L591.4,129.64 L592.09,130.28 L592.79,131.05 L593.48,131.85 L594.18,132.54 L594.87,133.11 L595.57,133.52 L596.26,133.75 L596.96,133.9 L597.65,134.09 L598.35,134.4 L599.04,134.78 L599.74,135.2 L600.43,135.67 L601.12,136.18 L601.82,136.75 L602.51,137.36 L603.21,137.96 L603.9,138.46 L604.6,138.84 L605.29,139.12 L605.99,139.35 L606.68,139.6 L607.38,139.91 L608.07,140.31 L608.77,140.78 L609.46,141.28 L610.16,141.78 L610.85,142.27 L611.55,142.69 L612.24,143 L612.94,143.28 L613.63,143.58 L614.33,143.91 L615.02,144.25 L615.71,144.58 L616.41,144.99 L617.1,145.46 L617.8,145.95 L618.49,146.4 L619.19,146.78 L619.88,147.01 L620.58,147.13 L621.27,147.22 L621.97,147.34 L622.66,147.5 L623.36,147.67 L624.05,147.89 L624.75,148.18 L625.44,148.57 L626.14,149.05 L626.83,149.58 L627.53,150.15 L628.22,150.69 L628.91,151.17 L629.61,151.65 L630.3,152.1 L631,152.46 L631.69,152.66 L632.39,152.71 L633.08,152.68 L633.78,152.69 L634.47,152.84 L635.17,153.14 L635.86,153.53 L636.56,153.85 L637.25,154.02 L637.95,154.12 L638.64,154.33 L639.34,154.72 L640.03,155.32 L640.73,155.96 L641.42,156.46 L642.12,156.76 L642.81,156.88 L643.5,156.88 L644.2,156.88 L644.89,156.98 L645.59,157.3 L646.28,157.79 L646.98,158.27 L647.67,158.7 L648.37,159.05 L649.06,159.28 L649.76,159.39 L650.45,159.51 L651.15,159.81 L651.84,160.34 L652.54,161.06 L653.23,161.85 L653.93,162.59 L654.62,163.21 L655.32,163.7 L656.01,164.11 L656.7,164.44 L657.4,164.78 L658.09,165.11 L658.79,165.4 L659.48,165.67 L660.18,166.04 L660.87,166.63 L661.57,167.4 L662.26,168.25 L662.96,169.04 L663.65,169.66 L664.35,170.05 L665.04,170.29 L665.74,170.48 L666.43,170.71 L667.13,171.07 L667.82,171.52 L668.52,172.03 L669.21,172.55 L669.91,173.03 L670.6,173.47" fill="none" stroke="#cc78bc" stroke-width="1.5" stroke-linejoin="round"/>
<path d="M392.7,13.1 L393.39,13.53 L394.09,13.96 L394.78,14.37 L395.48,14.79 L396.17,15.22 L396.87,15.69 L397.56,16.18 L398.26,16.68 L398.95,17.16 L399.65,17.6 L400.34,17.98 L401.04,18.32 L401.73,18.65 L402.43,19.08 L403.12,19.58 L403.82,20.13 L404.51,20.72 L405.21,21.33 L405.9,21.91 L406.59,22.45 L407.29,22.97 L407.98,23.51 L408.68,24.06 L409.37,24.62 L410.07,25.15 L410.76,25.65 L411.46,26.12 L412.15,26.73 L412.85,27.42 L413.54,28.14 L414.24,28.87 L414.93,29.63 L415.63,30.42 L416.32,31.26 L417.02,32.07 L417.71,32.74 L418.41,33.16 L419.1,33.51 L419.8,33.86 L420.49,34.22 L421.18,34.58 L421.88,34.8 L422.57,35.07 L423.27,35.39 L423.96,35.7 L424.66,35.96 L425.35,36.12 L426.05,36.16 L426.74,36.18 L427.44,36.34 L428.13,36.7 L428.83,37.27 L429.52,37.88 L430.22,38.37 L430.91,38.69 L431.61,38.88 L432.3,39.03 L433,39.25 L433.69,39.59 L434.38,40.03 L435.08,40.55 L435.77,41.08 L436.47,41.56 L437.16,41.97 L437.86,42.36 L438.55,42.77 L439.25,43.16 L439.94,43.42 L440.64,43.47 L441.33,43.38 L442.03,43.27 L442.72,43.24 L443.42,43.33 L444.11,43.68 L444.81,44.26 L445.5,44.78 L446.2,45.26 L446.89,45.77 L447.59,46.41 L448.28,47.12 L448.97,47.82 L449.67,48.49 L450.36,48.97 L451.06,49.24 L451.75,49.44 L452.45,49.63 L453.14,49.81 L453.84,49.98 L454.53,50.24 L455.23,50.61 L455.92,51.04 L456.62,51.5 L457.31,51.97 L458.01,52.41 L458.7,52.7 L459.4,52.88 L460.09,53 L460.79,53.08 L461.48,53.16 L462.17,53.29 L462.87,53.48 L463.56,53.8 L464.26,54.18 L464.95,54.64 L465.65,55.22 L466.34,55.93 L467.04,56.67 L467.73,57.29 L468.43,57.66 L469.12,57.83 L469.82,57.96 L470.51,58.11 L471.21,58.31 L471.9,58.61 L472.6,59.09 L473.29,59.7 L473.99,60.43 L474.68,61.34 L475.38,62.33 L476.07,63.25 L476.76,63.94 L477.46,64.39 L478.15,64.63 L478.85,64.69 L479.54,64.67 L480.24,64.61 L480.93,64.57 L481.63,64.71 L482.32,65.03 L483.02,65.48 L483.71,65.99 L484.41,66.47 L485.1,66.91 L485.8,67.25 L486.49,67.46 L487.19,67.59 L487.88,67.7 L488.58,67.86 L489.27,68.16 L489.96,68.57 L490.66,68.89 L491.35,69.01 L492.05,68.94 L492.74,68.84 L493.44,68.85 L494.13,69.03 L494.83,69.36 L495.52,69.75 L496.22,70.08 L496.91,70.29 L497.61,70.52 L498.3,70.87 L499,71.34 L499.69,71.87 L500.39,72.4 L501.08,73 L501.78,73.48 L502.47,73.8 L503.17,74.03 L503.86,74.27 L504.55,74.61 L505.25,75.01 L505.94,75.36 L506.64,75.6 L507.33,75.72 L508.03,75.78 L508.72,75.89 L509.42,76.16 L510.11,76.61 L510.81,77.22 L511.5,77.89 L512.2,78.4 L512.89,78.75 L513.59,79.03 L514.28,79.29 L514.98,79.61 L515.67,80.03 L516.37,80.6 L517.06,81.27 L517.75,81.83 L518.45,82.19 L519.14,82.43 L519.84,82.55 L520.53,82.61 L521.23,82.79 L521.92,83.22 L522.62,83.92 L523.31,84.75 L524.01,85.57 L524.7,86.28 L525.4,86.81 L526.09,87.21 L526.79,87.58 L527.48,88.02 L528.18,88.57 L528.87,89.16 L529.57,89.65 L530.26,90.04 L530.96,90.4 L531.65,90.8 L532.34,91.26 L533.04,91.77 L533.73,92.19 L534.43,92.46 L535.12,92.62 L535.82,92.81 L536.51,93.2 L537.21,93.75 L537.9,94.49 L538.6,95.31 L539.29,96.06 L539.99,96.6 L540.68,96.93 L541.38,97.15 L542.07,97.35 L542.77,97.59 L543.46,97.83 L544.16,98.02 L544.85,98 L545.54,97.92 L546.24,97.83 L546.93,97.86 L547.63,98 L548.32,98.24 L549.02,98.55 L549.71,98.83 L550.41,99.06 L551.1,99.26 L551.8,99.45 L552.49,99.67 L553.19,99.96 L553.88,100.31 L554.58,100.77 L555.27,101.32 L555.97,101.84 L556.66,102.28 L557.36,102.59 L558.05,102.77 L558.75,102.88 L559.44,102.9 L560.13,102.86 L560.83,102.83 L561.52,102.89 L562.22,103.06 L562.91,103.31 L563.61,103.78 L564.3,104.5 L565,105.11 L565.69,105.56 L566.39,105.95 L567.08,106.34 L567.78,106.76 L568.47,107.21 L569.17,107.71 L569.86,108.3 L570.56,108.87 L571.25,109.36 L571.95,109.86 L572.64,110.39 L573.34,110.93 L574.03,111.47 L574.72,111.98 L575.42,112.49 L576.11,112.99 L576.81,113.49 L577.5,113.99 L578.2,114.59 L578.89,115.29 L579.59,116.02 L580.28,116.73 L580.98,117.28 L581.67,117.69 L582.37,118.02 L583.06,118.3 L583.76,118.54 L584.45,118.8 L585.15,119.06 L585.84,119.33 L586.54,119.68 L587.23,120.1 L587.92,120.56 L588.62,121.06 L589.31,121.52 L590.01,121.95 L590.7,122.4 L591.4,122.89 L592.09,123.4 L592.79,123.91 L593.48,124.42 L594.18,124.92 L594.87,125.42 L595.57,125.9 L596.26,126.37 L596.96,126.84 L597.65,127.33 L598.35,127.93 L599.04,128.63 L599.74,129.31 L600.43,129.86 L601.12,130.22 L601.82,130.42 L602.51,130.56 L603.21,130.7 L603.9,130.88 L604.6,131.19 L605.29,131.59 L605.99,132.09 L606.68,132.68 L607.38,133.34 L608.07,134.03 L608.77,134.76 L609.46,135.49 L610.16,136.18 L610.85,136.82 L611.55,137.41 L612.24,138.06 L612.94,138.66 L613.63,139.2 L614.33,139.69 L615.02,140.19 L615.71,140.67 L616.41,141.17 L617.1,141.67 L617.8,142.18 L618.49,142.7 L619.19,143.19 L619.88,143.66 L620.58,144.18 L621.27,144.73 L621.97,145.29 L622.66,145.88 L623.36,146.52 L624.05,147.26 L624.75,148.1 L625.44,148.94 L626.14,149.7 L626.83,150.1 L627.53,150.35 L628.22,150.47 L628.91,150.54 L629.61,150.63 L630.3,150.74 L631,150.86 L631.69,150.96 L632.39,151.07 L633.08,151.24 L633.78,151.51 L634.47,151.88 L635.17,152.29 L635.86,152.68 L636.56,153.03 L637.25,153.29 L637.95,153.47 L638.64,153.67 L639.34,153.93 L640.03,154.28 L640.73,154.7 L641.42,155.09 L642.12,155.38 L642.81,155.6 L643.5,155.77 L644.2,155.96 L644.89,156.21 L645.59,156.51 L646.28,156.78 L646.98,156.93 L647.67,156.94 L648.37,156.92 L649.06,156.99 L649.76,157.24 L650.45,157.73 L651.15,158.36 L651.84,159.03 L652.54,159.67 L653.23,160.26 L653.93,160.75 L654.62,161.13 L655.32,161.45 L656.01,161.75 L656.7,162.03 L657.4,162.3 L658.09,162.64 L658.79,163.06 L659.48,163.47 L660.18,163.82 L660.87,164.16 L661.57,164.49 L662.26,164.83 L662.96,165.16 L663.65,165.47 L664.35,165.76 L665.04,165.95 L665.74,166.09 L666.43,166.25 L667.13,166.52 L667.82,166.98 L668.52,167.63 L669.21,168.36 L669.91,169.08 L670.6,169.66" fill="none" stroke="#cc78bc" stroke-width="1.5" stroke-linejoin="round" stroke-dasharray="15 6.9"/>
<path d="M392.7,13.1 L393.39,13.25 L394.09,13.4 L394.78,13.57 L395.48,13.76 L396.17,13.93 L396.87,14.07 L397.56,14.17 L398.26,14.21 L398.95,14.2 L399.65,14.2 L400.34,14.22 L401.04,14.26 L401.73,14.33 L402.43,14.41 L403.12,14.5 L403.82,14.59 L404.51,14.66 L405.21,14.71 L405.9,14.74 L406.59,14.77 L407.29,14.78 L407.98,14.79 L408.68,14.79 L409.37,14.82 L410.07,14.87 L410.76,14.96 L411.46,15.05 L412.15,15.13 L412.85,15.21 L413.54,15.28 L414.24,15.34 L414.93,15.38 L415.63,15.41 L416.32,15.43 L417.02,15.46 L417.71,15.51 L418.41,15.58 L419.1,15.66 L419.8,15.75 L420.49,15.84 L421.18,15.91 L421.88,15.97 L422.57,16.01 L423.27,16.05 L423.96,16.13 L424.66,16.24 L425.35,16.38 L426.05,16.54 L426.74,16.7 L427.44,16.82 L428.13,16.89 L428.83,16.94 L429.52,16.98 L430.22,17.04 L430.91,17.13 L431.61,17.25 L432.3,17.38 L433,17.49 L433.69,17.54 L434.38,17.56 L435.08,17.56 L435.77,17.57 L436.47,17.59 L437.16,17.64 L437.86,17.71 L438.55,17.81 L439.25,17.91 L439.94,18 L440.64,18.11 L441.33,18.23 L442.03,18.35 L442.72,18.45 L443.42,18.51 L444.11,18.53 L444.81,18.55 L445.5,18.56 L446.2,18.57 L446.89,18.61 L447.59,18.69 L448.28,18.79 L448.97,18.93 L449.67,19.09 L450.36,19.28 L451.06,19.49 L451.75,19.69 L452.45,19.83 L453.14,19.89 L453.84,19.9 L454.53,19.87 L455.23,19.84 L455.92,19.83 L456.62,19.85 L457.31,19.92 L458.01,20.01 L458.7,20.09 L459.4,20.18 L460.09,20.26 L460.79,20.35 L461.48,20.47 L462.17,20.6 L462.87,20.72 L463.56,20.82 L464.26,20.89 L464.95,20.94 L465.65,20.98 L466.34,21.05 L467.04,21.15 L467.73,21.29 L468.43,21.46 L469.12,21.64 L469.82,21.79 L470.51,21.91 L471.21,21.99 L471.9,22.02 L472.6,22.03 L473.29,22.04 L473.99,22.06 L474.68,22.08 L475.38,22.09 L476.07,22.11 L476.76,22.14 L477.46,22.2 L478.15,22.28 L478.85,22.39 L479.54,22.51 L480.24,22.63 L480.93,22.77 L481.63,22.91 L482.32,23.03 L483.02,23.13 L483.71,23.22 L484.41,23.27 L485.1,23.31 L485.8,23.34 L486.49,23.38 L487.19,23.45 L487.88,23.56 L488.58,23.69 L489.27,23.83 L489.96,23.98 L490.66,24.1 L491.35,24.19 L492.05,24.27 L492.74,24.34 L493.44,24.39 L494.13,24.43 L494.83,24.47 L495.52,24.53 L496.22,24.63 L496.91,24.76 L497.61,24.89 L498.3,25.01 L499,25.11 L499.69,25.19 L500.39,25.25 L501.08,25.29 L501.78,25.35 L502.47,25.44 L503.17,25.55 L503.86,25.67 L504.55,25.77 L505.25,25.84 L505.94,25.9 L506.64,25.95 L507.33,26 L508.03,26.06 L508.72,26.14 L509.42,26.22 L510.11,26.31 L510.81,26.38 L511.5,26.41 L512.2,26.44 L512.89,26.49 L513.59,26.58 L514.28,26.68 L514.98,26.79 L515.67,26.9 L516.37,26.99 L517.06,27.05 L517.75,27.08 L518.45,27.1 L519.14,27.13 L519.84,27.19 L520.53,27.29 L521.23,27.4 L521.92,27.52 L522.62,27.62 L523.31,27.69 L524.01,27.73 L524.7,27.78 L525.4,27.87 L526.09,28.01 L526.79,28.19 L527.48,28.4 L528.18,28.6 L528.87,28.78 L529.57,28.95 L530.26,29.09 L530.96,29.2 L531.65,29.3 L532.34,29.39 L533.04,29.47 L533.73,29.55 L534.43,29.64 L535.12,29.74 L535.82,29.87 L536.51,30.01 L537.21,30.12 L537.9,30.18 L538.6,30.22 L539.29,30.26 L539.99,30.33 L540.68,30.42 L541.38,30.53 L542.07,30.65 L542.77,30.75 L543.46,30.81 L544.16,30.82 L544.85,30.8 L545.54,30.8 L546.24,30.82 L546.93,30.89 L547.63,31.01 L548.32,31.16 L549.02,31.33 L549.71,31.47 L550.41,31.59 L551.1,31.67 L551.8,31.72 L552.49,31.78 L553.19,31.86 L553.88,31.99 L554.58,32.19 L555.27,32.46 L555.97,32.71 L556.66,32.92 L557.36,33.04 L558.05,33.1 L558.75,33.1 L559.44,33.06 L560.13,33.02 L560.83,33 L561.52,33.03 L562.22,33.08 L562.91,33.14 L563.61,33.19 L564.3,33.24 L565,33.33 L565.69,33.44 L566.39,33.56 L567.08,33.68 L567.78,33.82 L568.47,33.96 L569.17,34.1 L569.86,34.22 L570.56,34.31 L571.25,34.37 L571.95,34.41 L572.64,34.43 L573.34,34.47 L574.03,34.55 L574.72,34.68 L575.42,34.85 L576.11,35.04 L576.81,35.22 L577.5,35.38 L578.2,35.49 L578.89,35.55 L579.59,35.59 L580.28,35.6 L580.98,35.62 L581.67,35.66 L582.37,35.72 L583.06,35.83 L583.76,35.96 L584.45,36.1 L585.15,36.2 L585.84,36.26 L586.54,36.3 L587.23,36.34 L587.92,36.4 L588.62,36.5 L589.31,36.64 L590.01,36.79 L590.7,36.91 L591.4,37.01 L592.09,37.11 L592.79,37.21 L593.48,37.3 L594.18,37.4 L594.87,37.51 L595.57,37.63 L596.26,37.76 L596.96,37.89 L597.65,38.01 L598.35,38.14 L599.04,38.28 L599.74,38.41 L600.43,38.52 L601.12,38.63 L601.82,38.76 L602.51,38.9 L603.21,39.04 L603.9,39.16 L604.6,39.24 L605.29,39.27 L605.99,39.29 L606.68,39.32 L607.38,39.37 L608.07,39.46 L608.77,39.59 L609.46,39.72 L610.16,39.84 L610.85,39.93 L611.55,40.01 L612.24,40.09 L612.94,40.19 L613.63,40.34 L614.33,40.51 L615.02,40.69 L615.71,40.85 L616.41,40.95 L617.1,40.99 L617.8,40.98 L618.49,40.96 L619.19,40.94 L619.88,40.95 L620.58,41.03 L621.27,41.19 L621.97,41.38 L622.66,41.57 L623.36,41.74 L624.05,41.88 L624.75,42.01 L625.44,42.13 L626.14,42.24 L626.83,42.36 L627.53,42.49 L628.22,42.62 L628.91,42.73 L629.61,42.81 L630.3,42.87 L631,42.95 L631.69,43.03 L632.39,43.09 L633.08,43.14 L633.78,43.19 L634.47,43.27 L635.17,43.4 L635.86,43.59 L636.56,43.83 L637.25,44.06 L637.95,44.26 L638.64,44.4 L639.34,44.5 L640.03,44.57 L640.73,44.65 L641.42,44.72 L642.12,44.78 L642.81,44.82 L643.5,44.87 L644.2,44.93 L644.89,45.01 L645.59,45.14 L646.28,45.32 L646.98,45.52 L647.67,45.71 L648.37,45.85 L649.06,45.91 L649.76,45.92 L650.45,45.92 L651.15,45.94 L651.84,45.99 L652.54,46.08 L653.23,46.22 L653.93,46.43 L654.62,46.66 L655.32,46.87 L656.01,47.04 L656.7,47.16 L657.4,47.23 L658.09,47.3 L658.79,47.37 L659.48,47.46 L660.18,47.56 L660.87,47.67 L661.57,47.77 L662.26,47.86 L662.96,47.95 L663.65,48.04 L664.35,48.14 L665.04,48.27 L665.74,48.41 L666.43,48.54 L667.13,48.63 L667.82,48.68 L668.52,48.72 L669.21,48.78 L669.91,48.87 L670.6,48.97" fill="none" stroke="#0173b2" stroke-width="1.5" stroke-linejoin="round"/>
<path d="M392.7,13.1 L393.39,13.37 L394.09,13.41 L394.78,13.45 L395.48,13.47 L396.17,13.5 L396.87,13.53 L397.56,13.57 L398.26,13.64 L398.95,13.73 L399.65,13.81 L400.34,13.89 L401.04,13.97 L401.73,14.05 L402.43,14.13 L403.12,14.21 L403.82,14.29 L404.51,14.38 L405.21,14.47 L405.9,14.57 L406.59,14.68 L407.29,14.81 L407.98,14.93 L408.68,15.04 L409.37,15.13 L410.07,15.2 L410.76,15.28 L411.46,15.36 L412.15,15.44 L412.85,15.52 L413.54,15.59 L414.24,15.66 L414.93,15.7 L415.63,15.72 L416.32,15.76 L417.02,15.84 L417.71,15.93 L418.41,16.03 L419.1,16.11 L419.8,16.17 L420.49,16.21 L421.18,16.22 L421.88,16.23 L422.57,16.23 L423.27,16.26 L423.96,16.35 L424.66,16.49 L425.35,16.65 L426.05,16.8 L426.74,16.93 L427.44,17.04 L428.13,17.13 L428.83,17.19 L429.52,17.24 L430.22,17.3 L430.91,17.39 L431.61,17.49 L432.3,17.58 L433,17.66 L433.69,17.72 L434.38,17.8 L435.08,17.89 L435.77,17.97 L436.47,18.02 L437.16,18.06 L437.86,18.11 L438.55,18.18 L439.25,18.27 L439.94,18.38 L440.64,18.5 L441.33,18.61 L442.03,18.72 L442.72,18.79 L443.42,18.82 L444.11,18.83 L444.81,18.82 L445.5,18.82 L446.2,18.84 L446.89,18.88 L447.59,18.96 L448.28,19.09 L448.97,19.25 L449.67,19.43 L450.36,19.58 L451.06,19.69 L451.75,19.75 L452.45,19.8 L453.14,19.85 L453.84,19.93 L454.53,20.02 L455.23,20.13 L455.92,20.24 L456.62,20.34 L457.31,20.44 L458.01,20.52 L458.7,20.61 L459.4,20.71 L460.09,20.82 L460.79,20.95 L461.48,21.07 L462.17,21.17 L462.87,21.23 L463.56,21.28 L464.26,21.32 L464.95,21.37 L465.65,21.43 L466.34,21.51 L467.04,21.6 L467.73,21.7 L468.43,21.79 L469.12,21.87 L469.82,21.92 L470.51,21.97 L471.21,22.03 L471.9,22.1 L472.6,22.18 L473.29,22.26 L473.99,22.33 L474.68,22.4 L475.38,22.46 L476.07,22.53 L476.76,22.59 L477.46,22.66 L478.15,22.73 L478.85,22.83 L479.54,22.92 L480.24,23 L480.93,23.06 L481.63,23.11 L482.32,23.18 L483.02,23.26 L483.71,23.36 L484.41,23.5 L485.1,23.67 L485.8,23.86 L486.49,24.06 L487.19,24.22 L487.88,24.33 L488.58,24.39 L489.27,24.42 L489.96,24.39 L490.66,24.33 L491.35,24.28 L492.05,24.28 L492.74,24.35 L493.44,24.48 L494.13,24.65 L494.83,24.82 L495.52,24.97 L496.22,25.08 L496.91,25.16 L497.61,25.2 L498.3,25.24 L499,25.29 L499.69,25.35 L500.39,25.41 L501.08,25.48 L501.78,25.56 L502.47,25.67 L503.17,25.82 L503.86,25.99 L504.55,26.16 L505.25,26.32 L505.94,26.45 L506.64,26.56 L507.33,26.67 L508.03,26.78 L508.72,26.92 L509.42,27.06 L510.11,27.18 L510.81,27.26 L511.5,27.3 L512.2,27.32 L512.89,27.33 L513.59,27.38 L514.28,27.47 L514.98,27.57 L515.67,27.67 L516.37,27.73 L517.06,27.74 L517.75,27.73 L518.45,27.71 L519.14,27.72 L519.84,27.78 L520.53,27.89 L521.23,28.04 L521.92,28.16 L522.62,28.27 L523.31,28.36 L524.01,28.44 L524.7,28.52 L525.4,28.6 L526.09,28.69 L526.79,28.8 L527.48,28.93 L528.18,29.06 L528.87,29.18 L529.57,29.3 L530.26,29.43 L530.96,29.57 L531.65,29.71 L532.34,29.85 L533.04,29.99 L533.73,30.12 L534.43,30.23 L535.12,30.3 L535.82,30.35 L536.51,30.37 L537.21,30.39 L537.9,30.44 L538.6,30.52 L539.29,30.63 L539.99,30.77 L540.68,30.92 L541.38,31.05 L542.07,31.17 L542.77,31.29 L543.46,31.38 L544.16,31.47 L544.85,31.55 L545.54,31.63 L546.24,31.72 L546.93,31.79 L547.63,31.83 L548.32,31.83 L549.02,31.81 L549.71,31.81 L550.41,31.84 L551.1,31.92 L551.8,32.05 L552.49,32.23 L553.19,32.44 L553.88,32.66 L554.58,32.87 L555.27,33.06 L555.97,33.25 L556.66,33.41 L557.36,33.53 L558.05,33.61 L558.75,33.67 L559.44,33.7 L560.13,33.72 L560.83,33.76 L561.52,33.85 L562.22,33.97 L562.91,34.09 L563.61,34.21 L564.3,34.32 L565,34.43 L565.69,34.53 L566.39,34.62 L567.08,34.73 L567.78,34.85 L568.47,34.98 L569.17,35.08 L569.86,35.13 L570.56,35.15 L571.25,35.14 L571.95,35.13 L572.64,35.15 L573.34,35.19 L574.03,35.28 L574.72,35.41 L575.42,35.55 L576.11,35.68 L576.81,35.78 L577.5,35.86 L578.2,35.92 L578.89,35.99 L579.59,36.09 L580.28,36.23 L580.98,36.41 L581.67,36.58 L582.37,36.76 L583.06,36.92 L583.76,37.07 L584.45,37.19 L585.15,37.32 L585.84,37.46 L586.54,37.61 L587.23,37.77 L587.92,37.91 L588.62,38.03 L589.31,38.12 L590.01,38.16 L590.7,38.16 L591.4,38.16 L592.09,38.18 L592.79,38.26 L593.48,38.41 L594.18,38.61 L594.87,38.84 L595.57,39.06 L596.26,39.25 L596.96,39.39 L597.65,39.48 L598.35,39.54 L599.04,39.6 L599.74,39.66 L600.43,39.73 L601.12,39.82 L601.82,39.92 L602.51,40.04 L603.21,40.13 L603.9,40.18 L604.6,40.17 L605.29,40.14 L605.99,40.12 L606.68,40.13 L607.38,40.19 L608.07,40.33 L608.77,40.51 L609.46,40.72 L610.16,40.91 L610.85,41.09 L611.55,41.26 L612.24,41.41 L612.94,41.52 L613.63,41.61 L614.33,41.67 L615.02,41.72 L615.71,41.78 L616.41,41.86 L617.1,41.97 L617.8,42.09 L618.49,42.23 L619.19,42.35 L619.88,42.44 L620.58,42.52 L621.27,42.61 L621.97,42.7 L622.66,42.82 L623.36,42.97 L624.05,43.14 L624.75,43.32 L625.44,43.48 L626.14,43.6 L626.83,43.69 L627.53,43.75 L628.22,43.81 L628.91,43.89 L629.61,43.98 L630.3,44.1 L631,44.26 L631.69,44.45 L632.39,44.65 L633.08,44.84 L633.78,45.02 L634.47,45.17 L635.17,45.27 L635.86,45.31 L636.56,45.32 L637.25,45.34 L637.95,45.39 L638.64,45.51 L639.34,45.68 L640.03,45.87 L640.73,46.06 L641.42,46.23 L642.12,46.36 L642.81,46.45 L643.5,46.5 L644.2,46.54 L644.89,46.58 L645.59,46.61 L646.28,46.64 L646.98,46.68 L647.67,46.73 L648.37,46.82 L649.06,46.95 L649.76,47.1 L650.45,47.28 L651.15,47.47 L651.84,47.65 L652.54,47.8 L653.23,47.91 L653.93,48.02 L654.62,48.14 L655.32,48.27 L656.01,48.43 L656.7,48.59 L657.4,48.73 L658.09,48.86 L658.79,48.96 L659.48,49.03 L660.18,49.09 L660.87,49.14 L661.57,49.18 L662.26,49.22 L662.96,49.28 L663.65,49.38 L664.35,49.51 L665.04,49.67 L665.74,49.86 L666.43,50.06 L667.13,50.25 L667.82,50.42 L668.52,50.57 L669.21,50.74 L669.91,50.92 L670.6,51.09" fill="none" stroke="#0173b2" stroke-width="1.5" stroke-linejoin="round" stroke-dasharray="15 6.9"/>
</g>
<g clip-path="url(#cc)">
<path d="M216.4,310.86 L282.2,273.47 L348,267.3 L413.8,267.3 L477,267.2" fill="none" stroke="#0173b2" stroke-width="1.5" stroke-linejoin="round"/>
<circle cx="216.4" cy="310.86" r="2.9" fill="#0173b2" stroke="#fff" stroke-width="0.6"/>
<circle cx="282.2" cy="273.47" r="2.9" fill="#0173b2" stroke="#fff" stroke-width="0.6"/>
<circle cx="348" cy="267.3" r="2.9" fill="#0173b2" stroke="#fff" stroke-width="0.6"/>
<circle cx="413.8" cy="267.3" r="2.9" fill="#0173b2" stroke="#fff" stroke-width="0.6"/>
<path d="M216.4,310.86 L282.2,273.47 L348,267.3 L413.8,267.3 L477,267.2" fill="none" stroke="#0173b2" stroke-width="1.5" stroke-linejoin="round" stroke-dasharray="5.5 2.4"/>
<circle cx="216.4" cy="310.86" r="2.9" fill="#0173b2" stroke="#fff" stroke-width="0.6"/>
<circle cx="282.2" cy="273.47" r="2.9" fill="#0173b2" stroke="#fff" stroke-width="0.6"/>
<circle cx="348" cy="267.3" r="2.9" fill="#0173b2" stroke="#fff" stroke-width="0.6"/>
<circle cx="413.8" cy="267.3" r="2.9" fill="#0173b2" stroke="#fff" stroke-width="0.6"/>
<path d="M216.4,367.47 L282.2,290.81 L348,271.8 L413.8,267.83 L477,267.41" fill="none" stroke="#de8f05" stroke-width="1.5" stroke-linejoin="round"/>
<circle cx="216.4" cy="367.47" r="2.9" fill="#de8f05" stroke="#fff" stroke-width="0.6"/>
<circle cx="282.2" cy="290.81" r="2.9" fill="#de8f05" stroke="#fff" stroke-width="0.6"/>
<circle cx="348" cy="271.8" r="2.9" fill="#de8f05" stroke="#fff" stroke-width="0.6"/>
<circle cx="413.8" cy="267.83" r="2.9" fill="#de8f05" stroke="#fff" stroke-width="0.6"/>
<path d="M216.4,372.9 L282.2,289.13 L348,271.8 L413.8,267.83 L477,267.41" fill="none" stroke="#de8f05" stroke-width="1.5" stroke-linejoin="round" stroke-dasharray="5.5 2.4"/>
<circle cx="216.4" cy="372.9" r="2.9" fill="#de8f05" stroke="#fff" stroke-width="0.6"/>
<circle cx="282.2" cy="289.13" r="2.9" fill="#de8f05" stroke="#fff" stroke-width="0.6"/>
<circle cx="348" cy="271.8" r="2.9" fill="#de8f05" stroke="#fff" stroke-width="0.6"/>
<circle cx="413.8" cy="267.83" r="2.9" fill="#de8f05" stroke="#fff" stroke-width="0.6"/>
<path d="M216.4,419.49 L282.2,316.92 L348,279.32 L413.8,268.66 L477,267.62" fill="none" stroke="#029e73" stroke-width="1.5" stroke-linejoin="round"/>
<circle cx="216.4" cy="419.49" r="2.9" fill="#029e73" stroke="#fff" stroke-width="0.6"/>
<circle cx="282.2" cy="316.92" r="2.9" fill="#029e73" stroke="#fff" stroke-width="0.6"/>
<circle cx="348" cy="279.32" r="2.9" fill="#029e73" stroke="#fff" stroke-width="0.6"/>
<circle cx="413.8" cy="268.66" r="2.9" fill="#029e73" stroke="#fff" stroke-width="0.6"/>
<path d="M216.4,427.43 L282.2,319.63 L348,279.32 L413.8,268.66 L477,267.62" fill="none" stroke="#029e73" stroke-width="1.5" stroke-linejoin="round" stroke-dasharray="5.5 2.4"/>
<circle cx="216.4" cy="427.43" r="2.9" fill="#029e73" stroke="#fff" stroke-width="0.6"/>
<circle cx="282.2" cy="319.63" r="2.9" fill="#029e73" stroke="#fff" stroke-width="0.6"/>
<circle cx="348" cy="279.32" r="2.9" fill="#029e73" stroke="#fff" stroke-width="0.6"/>
<circle cx="413.8" cy="268.66" r="2.9" fill="#029e73" stroke="#fff" stroke-width="0.6"/>
<path d="M216.4,454.79 L282.2,363.29 L348,292.48 L413.8,269.5 L477,267.83" fill="none" stroke="#d55e00" stroke-width="1.5" stroke-linejoin="round"/>
<circle cx="216.4" cy="454.79" r="2.9" fill="#d55e00" stroke="#fff" stroke-width="0.6"/>
<circle cx="282.2" cy="363.29" r="2.9" fill="#d55e00" stroke="#fff" stroke-width="0.6"/>
<circle cx="348" cy="292.48" r="2.9" fill="#d55e00" stroke="#fff" stroke-width="0.6"/>
<circle cx="413.8" cy="269.5" r="2.9" fill="#d55e00" stroke="#fff" stroke-width="0.6"/>
<path d="M216.4,451.66 L282.2,359.74 L348,292.48 L413.8,269.5 L477,267.83" fill="none" stroke="#d55e00" stroke-width="1.5" stroke-linejoin="round" stroke-dasharray="5.5 2.4"/>
<circle cx="216.4" cy="451.66" r="2.9" fill="#d55e00" stroke="#fff" stroke-width="0.6"/>
<circle cx="282.2" cy="359.74" r="2.9" fill="#d55e00" stroke="#fff" stroke-width="0.6"/>
<circle cx="348" cy="292.48" r="2.9" fill="#d55e00" stroke="#fff" stroke-width="0.6"/>
<circle cx="413.8" cy="269.5" r="2.9" fill="#d55e00" stroke="#fff" stroke-width="0.6"/>
<path d="M216.4,458.34 L282.2,411.34 L348,313.99 L413.8,271.38 L477,268.24" fill="none" stroke="#cc78bc" stroke-width="1.5" stroke-linejoin="round"/>
<circle cx="216.4" cy="458.34" r="2.9" fill="#cc78bc" stroke="#fff" stroke-width="0.6"/>
<circle cx="282.2" cy="411.34" r="2.9" fill="#cc78bc" stroke="#fff" stroke-width="0.6"/>
<circle cx="348" cy="313.99" r="2.9" fill="#cc78bc" stroke="#fff" stroke-width="0.6"/>
<circle cx="413.8" cy="271.38" r="2.9" fill="#cc78bc" stroke="#fff" stroke-width="0.6"/>
<path d="M216.4,458.76 L282.2,404.45 L348,313.99 L413.8,271.38 L477,268.24" fill="none" stroke="#cc78bc" stroke-width="1.5" stroke-linejoin="round" stroke-dasharray="5.5 2.4"/>
<circle cx="216.4" cy="458.76" r="2.9" fill="#cc78bc" stroke="#fff" stroke-width="0.6"/>
<circle cx="282.2" cy="404.45" r="2.9" fill="#cc78bc" stroke="#fff" stroke-width="0.6"/>
<circle cx="348" cy="313.99" r="2.9" fill="#cc78bc" stroke="#fff" stroke-width="0.6"/>
<circle cx="413.8" cy="271.38" r="2.9" fill="#cc78bc" stroke="#fff" stroke-width="0.6"/>
<path d="M216.4,460.22 L282.2,436.2 L348,337.81 L413.8,273.88 L477,269.08" fill="none" stroke="#ca9161" stroke-width="1.5" stroke-linejoin="round"/>
<circle cx="216.4" cy="460.22" r="2.9" fill="#ca9161" stroke="#fff" stroke-width="0.6"/>
<circle cx="282.2" cy="436.2" r="2.9" fill="#ca9161" stroke="#fff" stroke-width="0.6"/>
<circle cx="348" cy="337.81" r="2.9" fill="#ca9161" stroke="#fff" stroke-width="0.6"/>
<circle cx="413.8" cy="273.88" r="2.9" fill="#ca9161" stroke="#fff" stroke-width="0.6"/>
<path d="M216.4,460.64 L282.2,430.35 L348,337.81 L413.8,273.88 L477,269.08" fill="none" stroke="#ca9161" stroke-width="1.5" stroke-linejoin="round" stroke-dasharray="5.5 2.4"/>
<circle cx="216.4" cy="460.64" r="2.9" fill="#ca9161" stroke="#fff" stroke-width="0.6"/>
<circle cx="282.2" cy="430.35" r="2.9" fill="#ca9161" stroke="#fff" stroke-width="0.6"/>
<circle cx="348" cy="337.81" r="2.9" fill="#ca9161" stroke="#fff" stroke-width="0.6"/>
<circle cx="413.8" cy="273.88" r="2.9" fill="#ca9161" stroke="#fff" stroke-width="0.6"/>
<path d="M216.4,459.18 L282.2,447.48 L348,365.38 L413.8,277.02 L477,269.71" fill="none" stroke="#fbafe4" stroke-width="1.5" stroke-linejoin="round"/>
<circle cx="216.4" cy="459.18" r="2.9" fill="#fbafe4" stroke="#fff" stroke-width="0.6"/>
<circle cx="282.2" cy="447.48" r="2.9" fill="#fbafe4" stroke="#fff" stroke-width="0.6"/>
<circle cx="348" cy="365.38" r="2.9" fill="#fbafe4" stroke="#fff" stroke-width="0.6"/>
<circle cx="413.8" cy="277.02" r="2.9" fill="#fbafe4" stroke="#fff" stroke-width="0.6"/>
<path d="M216.4,459.6 L282.2,446.85 L348,365.38 L413.8,277.02 L477,269.71" fill="none" stroke="#fbafe4" stroke-width="1.5" stroke-linejoin="round" stroke-dasharray="5.5 2.4"/>
<circle cx="216.4" cy="459.6" r="2.9" fill="#fbafe4" stroke="#fff" stroke-width="0.6"/>
<circle cx="282.2" cy="446.85" r="2.9" fill="#fbafe4" stroke="#fff" stroke-width="0.6"/>
<circle cx="348" cy="365.38" r="2.9" fill="#fbafe4" stroke="#fff" stroke-width="0.6"/>
<circle cx="413.8" cy="277.02" r="2.9" fill="#fbafe4" stroke="#fff" stroke-width="0.6"/>
<path d="M216.4,463.15 L282.2,455.63 L348,392.33 L413.8,281.3 L477,270.54" fill="none" stroke="#949494" stroke-width="1.5" stroke-linejoin="round"/>
<circle cx="216.4" cy="463.15" r="2.9" fill="#949494" stroke="#fff" stroke-width="0.6"/>
<circle cx="282.2" cy="455.63" r="2.9" fill="#949494" stroke="#fff" stroke-width="0.6"/>
<circle cx="348" cy="392.33" r="2.9" fill="#949494" stroke="#fff" stroke-width="0.6"/>
<circle cx="413.8" cy="281.3" r="2.9" fill="#949494" stroke="#fff" stroke-width="0.6"/>
<path d="M216.4,463.15 L282.2,452.91 L348,392.33 L413.8,281.3 L477,270.54" fill="none" stroke="#949494" stroke-width="1.5" stroke-linejoin="round" stroke-dasharray="5.5 2.4"/>
<circle cx="216.4" cy="463.15" r="2.9" fill="#949494" stroke="#fff" stroke-width="0.6"/>
<circle cx="282.2" cy="452.91" r="2.9" fill="#949494" stroke="#fff" stroke-width="0.6"/>
<circle cx="348" cy="392.33" r="2.9" fill="#949494" stroke="#fff" stroke-width="0.6"/>
<circle cx="413.8" cy="281.3" r="2.9" fill="#949494" stroke="#fff" stroke-width="0.6"/>
<circle cx="480.1" cy="270.4" r="2.9" fill="#949494" stroke="#fff" stroke-width="0.6"/>
</g>
<rect x="38.1" y="0.3" width="274.4" height="184.1" fill="none" stroke="#262626" stroke-width="1.45"/>
<line x1="32.1" y1="176.4" x2="38.1" y2="176.4" stroke="#161616" stroke-width="1.2"/>
<text x="29.8" y="180.4" class="tk" text-anchor="end">0.0</text>
<line x1="32.1" y1="142.9" x2="38.1" y2="142.9" stroke="#161616" stroke-width="1.2"/>
<text x="29.8" y="146.9" class="tk" text-anchor="end">0.2</text>
<line x1="32.1" y1="109.4" x2="38.1" y2="109.4" stroke="#161616" stroke-width="1.2"/>
<text x="29.8" y="113.4" class="tk" text-anchor="end">0.4</text>
<line x1="32.1" y1="75.9" x2="38.1" y2="75.9" stroke="#161616" stroke-width="1.2"/>
<text x="29.8" y="79.9" class="tk" text-anchor="end">0.6</text>
<line x1="32.1" y1="42.4" x2="38.1" y2="42.4" stroke="#161616" stroke-width="1.2"/>
<text x="29.8" y="46.4" class="tk" text-anchor="end">0.8</text>
<line x1="32.1" y1="8.9" x2="38.1" y2="8.9" stroke="#161616" stroke-width="1.2"/>
<text x="29.8" y="12.9" class="tk" text-anchor="end">1.0</text>
<line x1="50.36" y1="184.4" x2="50.36" y2="190.5" stroke="#161616" stroke-width="1.2"/>
<text x="50.36" y="200.2" class="tk" text-anchor="middle">0</text>
<line x1="100.34" y1="184.4" x2="100.34" y2="190.5" stroke="#161616" stroke-width="1.2"/>
<text x="100.34" y="200.2" class="tk" text-anchor="middle">100</text>
<line x1="150.32" y1="184.4" x2="150.32" y2="190.5" stroke="#161616" stroke-width="1.2"/>
<text x="150.32" y="200.2" class="tk" text-anchor="middle">200</text>
<line x1="200.3" y1="184.4" x2="200.3" y2="190.5" stroke="#161616" stroke-width="1.2"/>
<text x="200.3" y="200.2" class="tk" text-anchor="middle">300</text>
<line x1="250.28" y1="184.4" x2="250.28" y2="190.5" stroke="#161616" stroke-width="1.2"/>
<text x="250.28" y="200.2" class="tk" text-anchor="middle">400</text>
<line x1="300.26" y1="184.4" x2="300.26" y2="190.5" stroke="#161616" stroke-width="1.2"/>
<text x="300.26" y="200.2" class="tk" text-anchor="middle">500</text>
<rect x="378.8" y="5.2" width="305.7" height="176.2" fill="none" stroke="#262626" stroke-width="1.45"/>
<line x1="372.8" y1="168.7" x2="378.8" y2="168.7" stroke="#161616" stroke-width="1.2"/>
<text x="371.2" y="172.7" class="tk" text-anchor="end">0.93</text>
<line x1="372.8" y1="146.47" x2="378.8" y2="146.47" stroke="#161616" stroke-width="1.2"/>
<text x="371.2" y="150.47" class="tk" text-anchor="end">0.94</text>
<line x1="372.8" y1="124.25" x2="378.8" y2="124.25" stroke="#161616" stroke-width="1.2"/>
<text x="371.2" y="128.25" class="tk" text-anchor="end">0.95</text>
<line x1="372.8" y1="102.02" x2="378.8" y2="102.02" stroke="#161616" stroke-width="1.2"/>
<text x="371.2" y="106.02" class="tk" text-anchor="end">0.96</text>
<line x1="372.8" y1="79.79" x2="378.8" y2="79.79" stroke="#161616" stroke-width="1.2"/>
<text x="371.2" y="83.79" class="tk" text-anchor="end">0.97</text>
<line x1="372.8" y1="57.56" x2="378.8" y2="57.56" stroke="#161616" stroke-width="1.2"/>
<text x="371.2" y="61.56" class="tk" text-anchor="end">0.98</text>
<line x1="372.8" y1="35.33" x2="378.8" y2="35.33" stroke="#161616" stroke-width="1.2"/>
<text x="371.2" y="39.33" class="tk" text-anchor="end">0.99</text>
<line x1="372.8" y1="13.1" x2="378.8" y2="13.1" stroke="#161616" stroke-width="1.2"/>
<text x="371.2" y="17.1" class="tk" text-anchor="end">1.00</text>
<line x1="392.7" y1="181.4" x2="392.7" y2="187.5" stroke="#161616" stroke-width="1.2"/>
<text x="392.7" y="197.4" class="tk" text-anchor="middle">0</text>
<line x1="448.28" y1="181.4" x2="448.28" y2="187.5" stroke="#161616" stroke-width="1.2"/>
<text x="448.28" y="197.4" class="tk" text-anchor="middle">100</text>
<line x1="503.86" y1="181.4" x2="503.86" y2="187.5" stroke="#161616" stroke-width="1.2"/>
<text x="503.86" y="197.4" class="tk" text-anchor="middle">200</text>
<line x1="559.44" y1="181.4" x2="559.44" y2="187.5" stroke="#161616" stroke-width="1.2"/>
<text x="559.44" y="197.4" class="tk" text-anchor="middle">300</text>
<line x1="615.02" y1="181.4" x2="615.02" y2="187.5" stroke="#161616" stroke-width="1.2"/>
<text x="615.02" y="197.4" class="tk" text-anchor="middle">400</text>
<line x1="670.6" y1="181.4" x2="670.6" y2="187.5" stroke="#161616" stroke-width="1.2"/>
<text x="670.6" y="197.4" class="tk" text-anchor="middle">500</text>
<rect x="203.6" y="257.6" width="289.8" height="214.7" fill="none" stroke="#262626" stroke-width="1.45"/>
<line x1="197.6" y1="434.32" x2="203.6" y2="434.32" stroke="#161616" stroke-width="1.2"/>
<text x="195.3" y="438.32" class="tk" text-anchor="end">0.2</text>
<line x1="197.6" y1="392.54" x2="203.6" y2="392.54" stroke="#161616" stroke-width="1.2"/>
<text x="195.3" y="396.54" class="tk" text-anchor="end">0.4</text>
<line x1="197.6" y1="350.76" x2="203.6" y2="350.76" stroke="#161616" stroke-width="1.2"/>
<text x="195.3" y="354.76" class="tk" text-anchor="end">0.6</text>
<line x1="197.6" y1="308.98" x2="203.6" y2="308.98" stroke="#161616" stroke-width="1.2"/>
<text x="195.3" y="312.98" class="tk" text-anchor="end">0.8</text>
<line x1="197.6" y1="267.2" x2="203.6" y2="267.2" stroke="#161616" stroke-width="1.2"/>
<text x="195.3" y="271.2" class="tk" text-anchor="end">1.0</text>
<line x1="206.21" y1="472.3" x2="206.21" y2="476.8" stroke="#161616" stroke-width="1.2"/>
<line x1="210.02" y1="472.3" x2="210.02" y2="476.8" stroke="#161616" stroke-width="1.2"/>
<line x1="213.39" y1="472.3" x2="213.39" y2="476.8" stroke="#161616" stroke-width="1.2"/>
<line x1="216.4" y1="472.3" x2="216.4" y2="478.6" stroke="#161616" stroke-width="1.2"/>
<line x1="236.21" y1="472.3" x2="236.21" y2="476.8" stroke="#161616" stroke-width="1.2"/>
<line x1="247.79" y1="472.3" x2="247.79" y2="476.8" stroke="#161616" stroke-width="1.2"/>
<line x1="256.02" y1="472.3" x2="256.02" y2="476.8" stroke="#161616" stroke-width="1.2"/>
<line x1="262.39" y1="472.3" x2="262.39" y2="476.8" stroke="#161616" stroke-width="1.2"/>
<line x1="267.6" y1="472.3" x2="267.6" y2="476.8" stroke="#161616" stroke-width="1.2"/>
<line x1="272.01" y1="472.3" x2="272.01" y2="476.8" stroke="#161616" stroke-width="1.2"/>
<line x1="275.82" y1="472.3" x2="275.82" y2="476.8" stroke="#161616" stroke-width="1.2"/>
<line x1="279.19" y1="472.3" x2="279.19" y2="476.8" stroke="#161616" stroke-width="1.2"/>
<line x1="282.2" y1="472.3" x2="282.2" y2="478.6" stroke="#161616" stroke-width="1.2"/>
<line x1="302.01" y1="472.3" x2="302.01" y2="476.8" stroke="#161616" stroke-width="1.2"/>
<line x1="313.59" y1="472.3" x2="313.59" y2="476.8" stroke="#161616" stroke-width="1.2"/>
<line x1="321.82" y1="472.3" x2="321.82" y2="476.8" stroke="#161616" stroke-width="1.2"/>
<line x1="328.19" y1="472.3" x2="328.19" y2="476.8" stroke="#161616" stroke-width="1.2"/>
<line x1="333.4" y1="472.3" x2="333.4" y2="476.8" stroke="#161616" stroke-width="1.2"/>
<line x1="337.81" y1="472.3" x2="337.81" y2="476.8" stroke="#161616" stroke-width="1.2"/>
<line x1="341.62" y1="472.3" x2="341.62" y2="476.8" stroke="#161616" stroke-width="1.2"/>
<line x1="344.99" y1="472.3" x2="344.99" y2="476.8" stroke="#161616" stroke-width="1.2"/>
<line x1="348" y1="472.3" x2="348" y2="478.6" stroke="#161616" stroke-width="1.2"/>
<line x1="367.81" y1="472.3" x2="367.81" y2="476.8" stroke="#161616" stroke-width="1.2"/>
<line x1="379.39" y1="472.3" x2="379.39" y2="476.8" stroke="#161616" stroke-width="1.2"/>
<line x1="387.62" y1="472.3" x2="387.62" y2="476.8" stroke="#161616" stroke-width="1.2"/>
<line x1="393.99" y1="472.3" x2="393.99" y2="476.8" stroke="#161616" stroke-width="1.2"/>
<line x1="399.2" y1="472.3" x2="399.2" y2="476.8" stroke="#161616" stroke-width="1.2"/>
<line x1="403.61" y1="472.3" x2="403.61" y2="476.8" stroke="#161616" stroke-width="1.2"/>
<line x1="407.42" y1="472.3" x2="407.42" y2="476.8" stroke="#161616" stroke-width="1.2"/>
<line x1="410.79" y1="472.3" x2="410.79" y2="476.8" stroke="#161616" stroke-width="1.2"/>
<line x1="413.8" y1="472.3" x2="413.8" y2="478.6" stroke="#161616" stroke-width="1.2"/>
<line x1="433.61" y1="472.3" x2="433.61" y2="476.8" stroke="#161616" stroke-width="1.2"/>
<line x1="445.19" y1="472.3" x2="445.19" y2="476.8" stroke="#161616" stroke-width="1.2"/>
<line x1="453.42" y1="472.3" x2="453.42" y2="476.8" stroke="#161616" stroke-width="1.2"/>
<line x1="459.79" y1="472.3" x2="459.79" y2="476.8" stroke="#161616" stroke-width="1.2"/>
<line x1="465" y1="472.3" x2="465" y2="476.8" stroke="#161616" stroke-width="1.2"/>
<line x1="469.41" y1="472.3" x2="469.41" y2="476.8" stroke="#161616" stroke-width="1.2"/>
<line x1="473.22" y1="472.3" x2="473.22" y2="476.8" stroke="#161616" stroke-width="1.2"/>
<line x1="476.59" y1="472.3" x2="476.59" y2="476.8" stroke="#161616" stroke-width="1.2"/>
<line x1="479.6" y1="472.3" x2="479.6" y2="478.6" stroke="#161616" stroke-width="1.2"/>
<text x="210.08" y="489.20" class="tk" style="font-size:10.4px" textLength="10.23" lengthAdjust="spacingAndGlyphs">10</text>
<text x="220.15" y="484.90" class="tk" style="font-size:7.2px" textLength="3.87" lengthAdjust="spacingAndGlyphs">2</text>
<text x="275.88" y="489.20" class="tk" style="font-size:10.4px" textLength="10.23" lengthAdjust="spacingAndGlyphs">10</text>
<text x="285.92" y="484.90" class="tk" style="font-size:7.2px" textLength="3.78" lengthAdjust="spacingAndGlyphs">3</text>
<text x="341.68" y="489.20" class="tk" style="font-size:10.4px" textLength="10.23" lengthAdjust="spacingAndGlyphs">10</text>
<text x="351.97" y="484.90" class="tk" style="font-size:7.2px" textLength="3.33" lengthAdjust="spacingAndGlyphs">4</text>
<text x="407.48" y="489.20" class="tk" style="font-size:10.4px" textLength="10.23" lengthAdjust="spacingAndGlyphs">10</text>
<text x="417.44" y="484.90" class="tk" style="font-size:7.2px" textLength="3.87" lengthAdjust="spacingAndGlyphs">5</text>
<path d="M479.9,485.9 C481.02,484.05 481.92,483.85 482.69,483.85 C483.77,483.85 484.4,484.88 484.4,485.9 C484.4,486.92 483.77,487.95 482.69,487.95 C481.92,487.95 481.02,487.75 479.9,485.9 C478.77,484.05 477.88,483.85 477.11,483.85 C476.03,483.85 475.4,484.88 475.4,485.9 C475.4,486.92 476.03,487.95 477.11,487.95 C477.88,487.95 478.77,487.75 479.9,485.9Z" fill="none" stroke="#262626" stroke-width="0.9"/>
<text x="150.29" y="213.10" class="sl" style="font-size:11px" textLength="49.98" lengthAdjust="spacingAndGlyphs">Time [a.u.]</text>
<text x="506.89" y="210.30" class="sl" style="font-size:11px" textLength="49.57" lengthAdjust="spacingAndGlyphs">Time [a.u.]</text>
<text x="335.35" y="501.50" class="sl" style="font-size:11px" textLength="25.62" lengthAdjust="spacingAndGlyphs">Shots</text>
<g transform="translate(10.55,147) rotate(-90)">
<line x1="0.7" y1="-8.5" x2="0.7" y2="2.6" stroke="#262626" stroke-width="0.8"/>
<line x1="47.0" y1="-8.5" x2="47.0" y2="2.6" stroke="#262626" stroke-width="0.8"/>
<line x1="103.9" y1="-8.5" x2="103.9" y2="2.6" stroke="#262626" stroke-width="0.8"/>
<path d="M6.9,-8.4 L4.0,-2.9 L6.9,2.4" fill="none" stroke="#262626" stroke-width="0.7"/>
<path d="M98.5,-8.4 L101.2,-2.9 L98.5,2.4" fill="none" stroke="#262626" stroke-width="0.7"/>
<text x="7.54" y="-0.20" class="ml" style="font-size:12.2px" textLength="5.83" lengthAdjust="spacingAndGlyphs" font-style="italic">ψ</text>
<text x="14.25" y="2.30" class="ml" style="font-size:7.2px" textLength="18.23" lengthAdjust="spacingAndGlyphs">exact</text>
<text x="33.94" y="0.10" class="ml" style="font-size:12.3px" textLength="3.40" lengthAdjust="spacingAndGlyphs">(</text>
<text x="37.71" y="0.00" class="ml" style="font-size:11.5px" textLength="3.00" lengthAdjust="spacingAndGlyphs" font-style="italic">t</text>
<text x="42.01" y="0.10" class="ml" style="font-size:12.3px" textLength="3.20" lengthAdjust="spacingAndGlyphs">)</text>
<text x="48.41" y="-0.20" class="ml" style="font-size:12.2px" textLength="7.13" lengthAdjust="spacingAndGlyphs" font-style="italic">ψ</text>
<text x="56.93" y="2.00" class="ml" style="font-size:7.0px" textLength="27.93" lengthAdjust="spacingAndGlyphs">TDVQP</text>
<text x="85.88" y="0.10" class="ml" style="font-size:12.3px" textLength="3.13" lengthAdjust="spacingAndGlyphs">(</text>
<text x="89.70" y="0.00" class="ml" style="font-size:11.5px" textLength="3.11" lengthAdjust="spacingAndGlyphs" font-style="italic">t</text>
<text x="94.42" y="0.10" class="ml" style="font-size:12.3px" textLength="3.07" lengthAdjust="spacingAndGlyphs">)</text>
<text x="106.01" y="-4.90" class="ml" style="font-size:8.2px" textLength="3.25" lengthAdjust="spacingAndGlyphs">2</text>
</g>
<g transform="translate(346.7,147.2) rotate(-90)">
<line x1="0.7" y1="-8.5" x2="0.7" y2="2.6" stroke="#262626" stroke-width="0.8"/>
<line x1="47.0" y1="-8.5" x2="47.0" y2="2.6" stroke="#262626" stroke-width="0.8"/>
<line x1="103.9" y1="-8.5" x2="103.9" y2="2.6" stroke="#262626" stroke-width="0.8"/>
<path d="M6.9,-8.4 L4.0,-2.9 L6.9,2.4" fill="none" stroke="#262626" stroke-width="0.7"/>
<path d="M98.5,-8.4 L101.2,-2.9 L98.5,2.4" fill="none" stroke="#262626" stroke-width="0.7"/>
<text x="7.54" y="-0.20" class="ml" style="font-size:12.2px" textLength="5.83" lengthAdjust="spacingAndGlyphs" font-style="italic">ψ</text>
<text x="14.25" y="2.30" class="ml" style="font-size:7.2px" textLength="18.23" lengthAdjust="spacingAndGlyphs">exact</text>
<text x="33.94" y="0.10" class="ml" style="font-size:12.3px" textLength="3.40" lengthAdjust="spacingAndGlyphs">(</text>
<text x="37.71" y="0.00" class="ml" style="font-size:11.5px" textLength="3.00" lengthAdjust="spacingAndGlyphs" font-style="italic">t</text>
<text x="42.01" y="0.10" class="ml" style="font-size:12.3px" textLength="3.20" lengthAdjust="spacingAndGlyphs">)</text>
<text x="48.41" y="-0.20" class="ml" style="font-size:12.2px" textLength="7.13" lengthAdjust="spacingAndGlyphs" font-style="italic">ψ</text>
<text x="56.93" y="2.00" class="ml" style="font-size:7.0px" textLength="27.93" lengthAdjust="spacingAndGlyphs">TDVQP</text>
<text x="85.88" y="0.10" class="ml" style="font-size:12.3px" textLength="3.13" lengthAdjust="spacingAndGlyphs">(</text>
<text x="89.70" y="0.00" class="ml" style="font-size:11.5px" textLength="3.11" lengthAdjust="spacingAndGlyphs" font-style="italic">t</text>
<text x="94.42" y="0.10" class="ml" style="font-size:12.3px" textLength="3.07" lengthAdjust="spacingAndGlyphs">)</text>
<text x="106.01" y="-4.90" class="ml" style="font-size:8.2px" textLength="3.25" lengthAdjust="spacingAndGlyphs">2</text>
</g>
<g transform="translate(176.55,418.9) rotate(-90)">
<line x1="0.7" y1="-8.5" x2="0.7" y2="2.6" stroke="#262626" stroke-width="0.8"/>
<line x1="47.0" y1="-8.5" x2="47.0" y2="2.6" stroke="#262626" stroke-width="0.8"/>
<line x1="103.9" y1="-8.5" x2="103.9" y2="2.6" stroke="#262626" stroke-width="0.8"/>
<path d="M6.9,-8.4 L4.0,-2.9 L6.9,2.4" fill="none" stroke="#262626" stroke-width="0.7"/>
<path d="M98.5,-8.4 L101.2,-2.9 L98.5,2.4" fill="none" stroke="#262626" stroke-width="0.7"/>
<text x="7.54" y="-0.20" class="ml" style="font-size:12.2px" textLength="5.83" lengthAdjust="spacingAndGlyphs" font-style="italic">ψ</text>
<text x="14.25" y="2.30" class="ml" style="font-size:7.2px" textLength="18.23" lengthAdjust="spacingAndGlyphs">exact</text>
<text x="33.94" y="0.10" class="ml" style="font-size:12.3px" textLength="3.40" lengthAdjust="spacingAndGlyphs">(</text>
<text x="37.71" y="0.00" class="ml" style="font-size:11.5px" textLength="3.00" lengthAdjust="spacingAndGlyphs" font-style="italic">t</text>
<text x="42.01" y="0.10" class="ml" style="font-size:12.3px" textLength="3.20" lengthAdjust="spacingAndGlyphs">)</text>
<text x="48.41" y="-0.20" class="ml" style="font-size:12.2px" textLength="7.13" lengthAdjust="spacingAndGlyphs" font-style="italic">ψ</text>
<text x="56.93" y="2.00" class="ml" style="font-size:7.0px" textLength="27.93" lengthAdjust="spacingAndGlyphs">TDVQP</text>
<text x="85.88" y="0.10" class="ml" style="font-size:12.3px" textLength="3.13" lengthAdjust="spacingAndGlyphs">(</text>
<text x="89.70" y="0.00" class="ml" style="font-size:11.5px" textLength="3.11" lengthAdjust="spacingAndGlyphs" font-style="italic">t</text>
<text x="94.42" y="0.10" class="ml" style="font-size:12.3px" textLength="3.07" lengthAdjust="spacingAndGlyphs">)</text>
<text x="106.01" y="-4.90" class="ml" style="font-size:8.2px" textLength="3.25" lengthAdjust="spacingAndGlyphs">2</text>
</g>
<text x="2.26" y="12.90" class="pl" style="font-size:14.2px" textLength="6.24" lengthAdjust="spacingAndGlyphs">a</text>
<text x="337.39" y="14.80" class="pl" style="font-size:13.2px" textLength="7.62" lengthAdjust="spacingAndGlyphs">b</text>
<text x="168.26" y="272.80" class="pl" style="font-size:13px" textLength="6.08" lengthAdjust="spacingAndGlyphs">c</text>
<rect x="227.2" y="28.5" width="79.3" height="46.4" rx="2" fill="#fff" fill-opacity="0.8" stroke="#d9d9d9" stroke-width="0.9"/>
<text x="244.26" y="37.70" class="sl" style="font-size:10px" textLength="45.36" lengthAdjust="spacingAndGlyphs">Simulation</text>
<line x1="229.9" y1="50.9" x2="251.8" y2="50.9" stroke="#262626" stroke-width="1.5"/>
<text x="259.22" y="54.40" class="sl" style="font-size:10px" textLength="24.22" lengthAdjust="spacingAndGlyphs">single</text>
<line x1="229.9" y1="65.7" x2="251.8" y2="65.7" stroke="#262626" stroke-width="1.5" stroke-dasharray="5.2 3.1"/>
<text x="258.44" y="69.00" class="tk" style="font-size:11px" textLength="6.47" lengthAdjust="spacingAndGlyphs" font-style="italic">T</text>
<text x="266.89" y="64.60" class="tk" style="font-size:7.4px" textLength="1.50" lengthAdjust="spacingAndGlyphs">i</text>
<rect x="393.5" y="131.2" width="79.8" height="46.2" rx="2" fill="#fff" fill-opacity="0.8" stroke="#d9d9d9" stroke-width="0.9"/>
<text x="410.87" y="139.70" class="sl" style="font-size:10px" textLength="44.85" lengthAdjust="spacingAndGlyphs">Simulation</text>
<line x1="396.2" y1="153.3" x2="417.9" y2="153.3" stroke="#262626" stroke-width="1.5"/>
<text x="425.53" y="156.80" class="sl" style="font-size:10px" textLength="23.91" lengthAdjust="spacingAndGlyphs">single</text>
<line x1="396.2" y1="167.8" x2="417.9" y2="167.8" stroke="#262626" stroke-width="1.5" stroke-dasharray="5.2 3.1"/>
<text x="426.17" y="171.50" class="sl" style="font-size:10px" textLength="16.10" lengthAdjust="spacingAndGlyphs">MD</text>
<rect x="197.4" y="218.9" width="301.2" height="33.4" rx="2" fill="#fff" fill-opacity="0.8" stroke="#d9d9d9" stroke-width="0.9"/>
<text x="335.54" y="231.10" class="sl" style="font-size:10px" textLength="26.24" lengthAdjust="spacingAndGlyphs">Shots</text>
<line x1="200.5" y1="242.8" x2="222.8" y2="242.8" stroke="#0173b2" stroke-width="1.5"/>
<path d="M235.5,244.3 C236.59,242.32 237.46,242.1 238.2,242.1 C239.24,242.1 239.85,243.2 239.85,244.3 C239.85,245.4 239.24,246.5 238.2,246.5 C237.46,246.5 236.59,246.28 235.5,244.3 C234.41,242.32 233.54,242.1 232.8,242.1 C231.76,242.1 231.15,243.2 231.15,244.3 C231.15,245.4 231.76,246.5 232.8,246.5 C233.54,246.5 234.41,246.28 235.5,244.3Z" fill="none" stroke="#262626" stroke-width="0.9"/>
<line x1="261.1" y1="242.8" x2="283.4" y2="242.8" stroke="#de8f05" stroke-width="1.5"/>
<text x="290.18" y="246.50" class="tk" style="font-size:10.8px" textLength="10.23" lengthAdjust="spacingAndGlyphs">10</text>
<text x="300.80" y="242.60" class="tk" style="font-size:7.2px" textLength="3.37" lengthAdjust="spacingAndGlyphs">2</text>
<line x1="324.3" y1="242.8" x2="346.6" y2="242.8" stroke="#029e73" stroke-width="1.5"/>
<text x="353.68" y="246.50" class="tk" style="font-size:10.8px" textLength="10.23" lengthAdjust="spacingAndGlyphs">10</text>
<text x="364.27" y="242.60" class="tk" style="font-size:7.2px" textLength="3.29" lengthAdjust="spacingAndGlyphs">3</text>
<line x1="388" y1="242.8" x2="410.3" y2="242.8" stroke="#d55e00" stroke-width="1.5"/>
<text x="417.28" y="246.50" class="tk" style="font-size:10.8px" textLength="10.23" lengthAdjust="spacingAndGlyphs">10</text>
<text x="428.08" y="242.60" class="tk" style="font-size:7.2px" textLength="2.90" lengthAdjust="spacingAndGlyphs">4</text>
<line x1="451.2" y1="242.8" x2="473.5" y2="242.8" stroke="#cc78bc" stroke-width="1.5"/>
<text x="480.78" y="246.50" class="tk" style="font-size:10.8px" textLength="10.23" lengthAdjust="spacingAndGlyphs">10</text>
<text x="491.30" y="242.60" class="tk" style="font-size:7.2px" textLength="3.37" lengthAdjust="spacingAndGlyphs">5</text>
<rect x="404.4" y="290" width="82.8" height="176.8" rx="2" fill="#fff" fill-opacity="0.8" stroke="#d9d9d9" stroke-width="0.9"/>
<text x="437.50" y="302.40" class="sl" style="font-size:10px" textLength="46.41" lengthAdjust="spacingAndGlyphs">Time [a.u.]</text>
<line x1="407" y1="313.3" x2="429.5" y2="313.3" stroke="#0173b2" stroke-width="1.5"/>
<text x="436.83" y="317.70" class="sl" style="font-size:10px" textLength="9.95" lengthAdjust="spacingAndGlyphs">10</text>
<line x1="407" y1="327.73" x2="429.5" y2="327.73" stroke="#de8f05" stroke-width="1.5"/>
<text x="437.06" y="332.13" class="sl" style="font-size:10px" textLength="9.71" lengthAdjust="spacingAndGlyphs">25</text>
<line x1="407" y1="342.16" x2="429.5" y2="342.16" stroke="#029e73" stroke-width="1.5"/>
<text x="437.15" y="346.56" class="sl" style="font-size:10px" textLength="9.61" lengthAdjust="spacingAndGlyphs">50</text>
<line x1="407" y1="356.59" x2="429.5" y2="356.59" stroke="#d55e00" stroke-width="1.5"/>
<text x="436.78" y="360.99" class="sl" style="font-size:10px" textLength="15.93" lengthAdjust="spacingAndGlyphs">100</text>
<line x1="407" y1="371.02" x2="429.5" y2="371.02" stroke="#cc78bc" stroke-width="1.5"/>
<text x="437.03" y="375.42" class="sl" style="font-size:10px" textLength="15.68" lengthAdjust="spacingAndGlyphs">200</text>
<line x1="407" y1="385.45" x2="429.5" y2="385.45" stroke="#ca9161" stroke-width="1.5"/>
<text x="437.13" y="389.85" class="sl" style="font-size:10px" textLength="15.58" lengthAdjust="spacingAndGlyphs">300</text>
<line x1="407" y1="399.88" x2="429.5" y2="399.88" stroke="#fbafe4" stroke-width="1.5"/>
<text x="437.27" y="404.28" class="sl" style="font-size:10px" textLength="15.43" lengthAdjust="spacingAndGlyphs">400</text>
<line x1="407" y1="414.31" x2="429.5" y2="414.31" stroke="#949494" stroke-width="1.5"/>
<text x="437.13" y="418.71" class="sl" style="font-size:10px" textLength="15.58" lengthAdjust="spacingAndGlyphs">500</text>
<text x="436.97" y="433.30" class="sl" style="font-size:10px" textLength="44.95" lengthAdjust="spacingAndGlyphs">Simulation</text>
<line x1="407" y1="443.1" x2="429.5" y2="443.1" stroke="#262626" stroke-width="1.5"/>
<text x="437.13" y="447.60" class="sl" style="font-size:10px" textLength="23.29" lengthAdjust="spacingAndGlyphs">single</text>
<line x1="407" y1="457.6" x2="429.5" y2="457.6" stroke="#262626" stroke-width="1.5" stroke-dasharray="5.2 3.1"/>
<text x="436.96" y="462.20" class="sl" style="font-size:10px" textLength="16.31" lengthAdjust="spacingAndGlyphs">MD</text>
</svg>
</body></html>
